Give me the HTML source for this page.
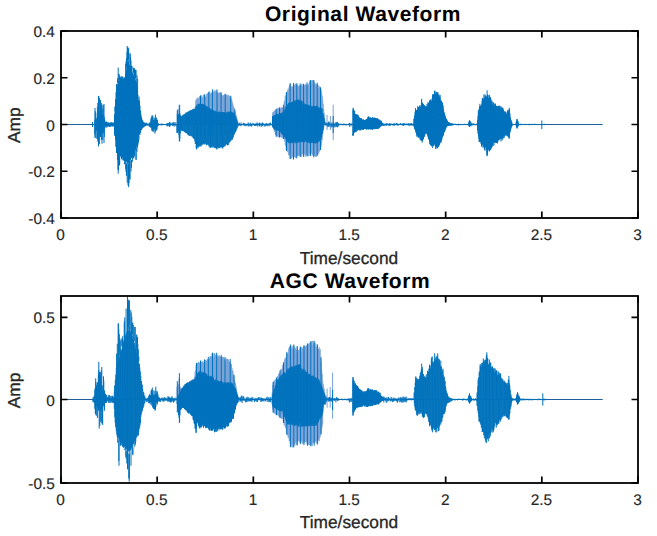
<!DOCTYPE html>
<html><head><meta charset="utf-8"><style>
html,body{margin:0;padding:0;background:#fff;}
body{width:657px;height:536px;overflow:hidden;}
svg{display:block;}
text{text-rendering:geometricPrecision;font-family:"Liberation Sans",sans-serif;fill:#262626;stroke:#262626;stroke-width:0.3px;}
.tk{font-size:15.4px;stroke-width:0.15px;}
.lb{font-size:17.3px;}
.tt{font-size:21px;font-weight:bold;fill:#000;stroke:none;letter-spacing:0.6px;}
</style></head><body>
<svg width="657" height="536" viewBox="0 0 657 536">
<rect width="657" height="536" fill="#fff"/>
<path d="M61,124.5H602.7M61,399.5H602.7" stroke="#1d5e9c" stroke-width="1.1" fill="none"/>
<path d="M176.8,124.0V124.5M177.3,111.1V124.5M177.8,115.7V124.5M178.3,115.0V124.5M178.8,109.4V124.5M179.3,106.3V124.5M179.8,104.9V124.5M180.3,113.2V124.5M180.8,116.7V124.5M181.3,116.9V124.5M181.8,116.0V124.5M182.3,115.4V124.5M182.8,115.2V124.5M183.3,114.7V124.5M183.8,114.9V124.5M184.3,114.0V124.5M184.8,113.9V124.5M185.3,114.0V124.5M185.8,113.7V124.5M186.3,113.3V124.5M186.8,112.1V124.5M187.3,112.1V124.5M187.8,112.1V124.5M188.3,111.8V124.5M188.8,111.5V124.5M189.3,111.9V124.5M189.8,111.3V124.5M190.3,111.0V124.5M190.8,110.8V124.5M191.3,110.0V124.5M191.8,110.4V124.5M192.3,109.6V124.5M192.8,109.4V124.5M193.3,109.9V124.5M193.8,109.8V124.5M194.3,109.5V124.5M194.8,109.6V124.5M195.3,106.7V124.5M195.8,100.4V124.5M196.3,99.5V124.5M196.8,98.7V124.5M197.3,97.6V124.5M197.8,97.9V124.5M198.3,98.3V124.5M198.8,98.9V124.5M199.3,96.8V124.5M199.8,96.0V124.5M200.3,96.0V124.5M200.8,97.6V124.5M201.3,96.7V124.5M201.8,95.4V124.5M202.3,97.6V124.5M202.8,97.2V124.5M203.3,94.8V124.5M203.8,94.7V124.5M204.3,95.2V124.5M204.8,97.0V124.5M205.3,96.8V124.5M205.8,96.6V124.5M206.3,95.1V124.5M206.8,93.8V124.5M207.3,93.6V124.5M207.8,92.8V124.5M208.3,95.1V124.5M208.8,93.1V124.5M209.3,91.6V124.5M209.8,92.2V124.5M210.3,93.8V124.5M210.8,93.6V124.5M211.3,93.0V124.5M211.8,92.6V124.5M212.3,91.5V124.5M212.8,90.4V124.5M213.3,91.5V124.5M213.8,92.6V124.5M214.3,91.9V124.5M214.8,89.7V124.5M215.3,91.2V124.5M215.8,91.5V124.5M216.3,90.6V124.5M216.8,91.8V124.5M217.3,93.0V124.5M217.8,92.4V124.5M218.3,93.0V124.5M218.8,94.1V124.5M219.3,92.3V124.5M219.8,92.9V124.5M220.3,92.2V124.5M220.8,93.2V124.5M221.3,93.8V124.5M221.8,94.7V124.5M222.3,95.3V124.5M222.8,96.0V124.5M223.3,94.9V124.5M223.8,95.9V124.5M224.3,95.0V124.5M224.8,94.5V124.5M225.3,94.5V124.5M225.8,95.2V124.5M226.3,94.7V124.5M226.8,95.2V124.5M227.3,94.6V124.5M227.8,95.7V124.5M228.3,95.6V124.5M228.8,95.0V124.5M229.3,98.0V124.5M229.8,95.9V124.5M230.3,97.3V124.5M230.8,96.6V124.5M231.3,98.7V124.5M231.8,99.5V124.5M232.3,102.2V124.5M232.8,103.7V124.5M233.3,105.8V124.5M233.8,107.5V124.5M234.3,108.0V124.5M234.8,109.8V124.5M235.3,111.8V124.5M235.8,113.7V124.5M236.3,115.6V124.5M236.8,117.3V124.5M237.3,120.4V124.5M237.8,123.3V124.5M272.2,124.0V124.5M272.2,124.5V125.0M272.7,112.6V124.5M272.7,124.5V126.5M273.2,112.0V124.5M273.2,124.5V128.0M273.7,111.7V124.5M273.7,124.5V129.5M274.2,110.5V124.5M274.2,124.5V130.8M274.7,110.9V124.5M274.7,124.5V132.0M275.2,110.5V124.5M275.2,124.5V134.1M275.7,109.8V124.5M275.7,124.5V134.9M276.2,110.1V124.5M276.2,124.5V135.6M276.7,109.2V124.5M276.7,124.5V136.3M277.2,108.1V124.5M277.2,124.5V136.2M277.7,108.3V124.5M277.7,124.5V136.4M278.2,107.8V124.5M278.2,124.5V136.8M278.7,109.0V124.5M278.7,124.5V137.2M279.2,108.6V124.5M279.2,124.5V137.4M279.7,108.8V124.5M279.7,124.5V137.0M280.2,108.6V124.5M280.2,124.5V137.4M280.7,107.7V124.5M280.7,124.5V136.5M281.2,107.3V124.5M281.2,124.5V137.3M281.7,107.9V124.5M281.7,124.5V137.3M282.2,107.5V124.5M282.2,124.5V137.4M282.7,107.6V124.5M282.7,124.5V137.9M283.2,107.2V124.5M283.2,124.5V138.3M283.7,104.9V124.5M283.7,124.5V138.6M284.2,101.6V124.5M284.2,124.5V139.5M284.7,100.6V124.5M284.7,124.5V141.5M285.2,95.6V124.5M285.2,124.5V144.8M285.7,95.8V124.5M285.7,124.5V146.3M286.2,92.9V124.5M286.2,124.5V150.0M286.7,94.4V124.5M286.7,124.5V148.9M287.2,92.1V124.5M287.2,124.5V150.2M287.7,90.0V124.5M287.7,124.5V152.1M288.2,88.4V124.5M288.2,124.5V152.7M288.7,90.2V124.5M288.7,124.5V155.4M289.2,86.3V124.5M289.2,124.5V155.0M289.7,85.0V124.5M289.7,124.5V155.0M290.2,83.4V124.5M290.2,124.5V158.9M290.7,84.4V124.5M290.7,124.5V158.2M291.2,87.3V124.5M291.2,124.5V158.8M291.7,86.2V124.5M291.7,124.5V157.1M292.2,86.7V124.5M292.2,124.5V156.8M292.7,86.7V124.5M292.7,124.5V157.5M293.2,86.3V124.5M293.2,124.5V158.7M293.7,85.6V124.5M293.7,124.5V156.6M294.2,84.5V124.5M294.2,124.5V157.4M294.7,85.2V124.5M294.7,124.5V157.0M295.2,84.2V124.5M295.2,124.5V156.7M295.7,83.6V124.5M295.7,124.5V157.8M296.2,85.4V124.5M296.2,124.5V157.8M296.7,84.8V124.5M296.7,124.5V156.4M297.2,86.2V124.5M297.2,124.5V155.8M297.7,84.5V124.5M297.7,124.5V156.0M298.2,86.9V124.5M298.2,124.5V155.8M298.7,86.0V124.5M298.7,124.5V156.1M299.2,85.2V124.5M299.2,124.5V154.2M299.7,86.0V124.5M299.7,124.5V155.9M300.2,86.2V124.5M300.2,124.5V153.8M300.7,85.0V124.5M300.7,124.5V155.3M301.2,86.4V124.5M301.2,124.5V156.9M301.7,83.7V124.5M301.7,124.5V156.4M302.2,85.1V124.5M302.2,124.5V154.0M302.7,85.9V124.5M302.7,124.5V154.5M303.2,83.8V124.5M303.2,124.5V154.2M303.7,86.3V124.5M303.7,124.5V154.3M304.2,85.3V124.5M304.2,124.5V154.6M304.7,84.7V124.5M304.7,124.5V154.1M305.2,86.2V124.5M305.2,124.5V156.8M305.7,84.0V124.5M305.7,124.5V155.4M306.2,85.1V124.5M306.2,124.5V154.5M306.7,84.8V124.5M306.7,124.5V153.9M307.2,86.1V124.5M307.2,124.5V155.9M307.7,85.0V124.5M307.7,124.5V154.0M308.2,83.7V124.5M308.2,124.5V155.9M308.7,84.8V124.5M308.7,124.5V156.2M309.2,82.7V124.5M309.2,124.5V155.7M309.7,80.6V124.5M309.7,124.5V153.4M310.2,81.1V124.5M310.2,124.5V153.3M310.7,82.2V124.5M310.7,124.5V153.6M311.2,80.2V124.5M311.2,124.5V153.0M311.7,82.5V124.5M311.7,124.5V153.4M312.2,80.1V124.5M312.2,124.5V155.4M312.7,80.1V124.5M312.7,124.5V155.1M313.2,80.1V124.5M313.2,124.5V156.1M313.7,83.3V124.5M313.7,124.5V155.5M314.2,83.2V124.5M314.2,124.5V154.3M314.7,81.5V124.5M314.7,124.5V156.2M315.2,83.8V124.5M315.2,124.5V155.9M315.7,84.5V124.5M315.7,124.5V156.8M316.2,84.1V124.5M316.2,124.5V157.0M316.7,86.5V124.5M316.7,124.5V154.6M317.2,84.4V124.5M317.2,124.5V154.9M317.7,84.9V124.5M317.7,124.5V154.1M318.2,84.9V124.5M318.2,124.5V152.9M318.7,87.6V124.5M318.7,124.5V154.3M319.2,87.7V124.5M319.2,124.5V151.5M319.7,86.2V124.5M319.7,124.5V151.7M320.2,87.6V124.5M320.2,124.5V149.0M320.7,88.5V124.5M320.7,124.5V147.9M321.2,89.6V124.5M321.2,124.5V146.3M321.7,92.4V124.5M321.7,124.5V143.4M322.2,95.7V124.5M322.2,124.5V140.2M322.7,99.5V124.5M322.7,124.5V135.0M323.2,103.8V124.5M323.2,124.5V130.1M323.7,109.1V124.5M323.7,124.5V127.3M324.2,112.8V124.5M324.2,124.5V124.5M324.7,117.9V124.5M324.7,124.5V124.5M325.2,121.9V124.5M325.2,124.5V124.5M327.0,114.8V130.0M330.4,116.0V130.0M333.2,104.7V140.2" stroke="#7aa3d8" stroke-width="1" fill="none"/>
<path d="M145.6,123.4V125.8M146.4,122.6V125.6M147.2,123.3V125.8M148.0,123.8V125.7M158.6,123.8V125.3M159.4,124.2V124.9M160.2,124.2V125.3M161.0,123.7V124.7M161.8,123.5V125.5M162.6,123.8V125.2M163.4,124.2V124.7M164.2,123.9V124.7M165.0,124.1V124.9M165.8,124.3V125.1M166.6,123.9V125.4M167.0,123.0V126.3M167.8,123.0V126.3M168.6,123.1V125.6M169.4,122.0V127.0M170.2,122.3V126.4M171.0,123.4V125.5M171.8,123.4V125.1M172.6,122.5V125.8M173.4,122.3V125.8M174.2,122.1V126.7M175.0,124.0V125.4M175.8,122.2V125.9M237.8,122.3V125.6M238.6,123.9V126.0M239.4,122.7V125.4M240.2,123.9V125.5M241.0,122.4V126.3M241.8,123.9V125.4M242.6,123.9V125.0M243.4,122.7V125.3M244.2,123.1V125.7M245.0,123.7V126.2M245.8,123.8V126.1M246.6,123.9V125.7M247.4,123.7V125.4M248.2,122.4V126.4M249.0,123.5V126.5M249.8,123.7V125.6M250.6,122.6V126.1M251.4,123.9V126.7M252.2,123.7V125.4M253.0,122.7V125.5M253.8,123.5V125.1M254.6,123.9V126.0M255.4,123.6V126.0M256.2,123.4V125.7M257.0,122.4V125.8M257.8,123.0V126.5M258.6,123.7V125.2M259.4,122.5V126.4M260.2,123.6V125.3M261.0,122.8V126.6M261.8,123.7V126.6M262.6,122.5V126.0M263.4,123.3V125.1M264.2,124.0V126.6M265.0,123.6V126.2M265.8,123.6V126.4M266.6,123.0V125.5M267.4,123.8V126.2M268.2,123.9V125.3M269.0,123.1V126.4M269.8,123.0V125.4M270.6,122.4V125.3M271.4,124.0V125.4M325.4,122.8V125.2M326.2,123.5V126.0M327.0,122.5V125.4M327.8,123.0V127.2M328.6,121.5V126.7M329.4,122.2V126.5M330.2,123.6V125.2M331.0,123.9V127.3M331.8,122.2V127.4M332.6,123.8V126.6M333.4,122.7V126.9M334.2,123.1V127.5M335.0,123.7V126.4M335.8,122.1V127.3M336.6,122.1V126.8M337.4,122.0V127.3M338.2,123.1V126.7M338.4,123.6V125.4M339.2,124.0V125.3M340.0,123.6V125.2M340.8,123.8V125.0M341.6,123.8V125.2M342.4,124.2V125.2M343.2,123.5V125.4M344.0,123.7V125.0M344.8,123.7V125.2M345.6,123.9V125.4M346.4,124.2V125.3M347.2,124.3V125.2M348.0,123.9V124.9M348.8,123.7V125.1M349.4,122.8V126.8M350.2,123.5V125.0M351.0,123.4V126.4M351.8,123.6V125.3M382.9,123.0V125.7M383.7,123.6V126.0M384.5,123.8V125.7M385.3,123.9V125.4M386.1,123.1V126.0M386.9,123.1V125.3M387.7,123.4V125.2M388.5,124.0V125.5M389.3,123.1V125.9M390.1,123.3V126.0M390.9,123.8V125.0M391.7,123.6V125.2M392.5,123.9V125.3M393.3,123.4V125.5M394.1,123.8V125.9M394.9,122.9V125.4M395.7,124.1V124.9M396.5,123.1V124.9M397.3,123.3V125.6M398.1,123.8V125.8M398.9,124.2V125.0M399.7,123.6V124.9M400.5,123.1V125.1M401.3,124.0V124.9M402.1,123.4V125.4M402.9,123.4V125.7M403.7,123.1V126.0M404.5,123.3V125.1M405.3,123.6V125.0M406.1,124.2V125.4M406.9,123.3V125.0M407.7,123.8V125.3M408.5,123.3V125.5M409.3,123.4V125.8M410.1,123.7V125.8M410.9,123.0V124.9M411.7,123.0V125.7M412.5,124.0V125.4M413.3,123.4V126.0M452.8,124.1V125.0M453.6,123.8V125.2M454.4,123.7V125.0M455.2,123.9V124.8M456.0,123.9V125.2M456.8,123.9V125.1M457.6,124.2V125.2M458.4,123.7V125.3M459.2,124.0V125.2M460.0,124.1V125.2M460.8,123.8V124.9M461.6,124.3V124.9M462.4,124.0V125.2M463.2,124.0V124.7M464.0,123.8V124.7M464.8,123.8V124.8M465.6,124.1V125.2M466.4,124.3V124.8M471.5,123.8V125.4M472.3,123.5V125.4M473.1,123.4V125.2M473.9,123.3V124.8M474.7,124.0V125.2M475.5,124.0V125.4M476.3,123.6V125.2M518.8,123.8V125.0M519.6,124.1V124.9M520.4,123.8V125.2M521.2,124.2V125.2M522.0,123.7V125.0M522.8,124.0V124.8M523.6,124.0V125.0M524.4,124.0V124.7M525.2,123.7V125.0M526.0,124.1V125.2M526.8,124.0V125.0M527.6,123.9V124.7M528.4,124.0V124.9M529.2,123.7V125.3M530.0,124.2V125.0M530.8,124.3V124.9M531.6,123.8V125.2M532.4,124.0V124.9M533.2,124.2V125.1M534.0,123.7V124.7M534.8,123.8V124.7M535.6,124.2V124.8M536.4,123.9V124.9M537.2,124.1V125.1M538.0,124.3V125.1M538.8,124.3V125.0M539.6,124.2V124.8M540.4,124.0V124.9M541.2,124.1V124.9M542.0,124.0V124.8M542.8,124.2V125.1M543.6,123.9V125.0M544.4,123.8V125.1M104.8,122.3V125.5M105.6,122.5V126.6M106.4,122.2V125.6M107.2,123.4V126.8M108.0,123.6V127.0M108.8,122.2V125.3M109.6,123.5V126.5M110.4,123.5V125.2M111.2,122.3V125.8M112.0,122.4V125.3M112.8,123.2V126.4M113.6,124.0V125.4M94.3,124.7V124.8M94.3,124.3V124.7M94.8,127.4V134.5M94.8,119.7V127.8M95.3,111.2V119.5M95.3,128.6V137.5M95.3,119.2V130.1M95.8,112.7V119.5M95.8,128.7V131.6M95.8,118.8V131.2M96.3,119.2V130.0M96.8,128.8V138.8M96.8,118.2V130.2M97.3,116.8V129.4M97.8,102.8V118.1M97.8,129.7V141.6M97.8,114.9V130.3M98.3,111.8V133.6M98.8,95.9V116.1M98.8,112.6V133.4M99.3,111.2V131.5M99.8,129.6V136.4M99.8,112.9V132.3M100.3,128.6V135.3M100.3,113.6V130.7M100.8,103.3V117.5M100.8,128.6V136.0M100.8,114.1V128.6M101.3,115.3V129.9M101.8,106.4V118.4M101.8,130.0V139.3M101.8,115.7V131.9M102.3,114.5V132.9M102.8,108.7V118.5M102.8,130.2V139.9M102.8,114.5V131.2M103.3,104.9V118.4M103.3,118.2V131.1M103.8,116.1V133.7M104.3,128.4V136.9M104.3,117.3V130.4M104.8,122.6V125.6M105.3,123.2V125.6M105.8,121.8V123.5M105.8,123.1V125.7M106.3,121.7V123.6M106.3,123.4V125.8M106.8,125.4V127.5M106.8,123.5V125.5M107.3,123.6V125.6M107.8,121.8V123.7M107.8,123.3V125.9M108.3,123.7V125.5M108.8,123.0V123.7M108.8,123.2V125.7M109.3,125.3V126.9M109.3,123.2V125.6M109.8,125.2V126.8M109.8,123.5V125.3M110.3,125.2V126.9M110.3,123.6V125.4M110.8,122.2V123.8M110.8,123.5V125.7M111.3,122.7V123.8M111.3,123.5V125.2M111.8,125.2V126.5M111.8,123.5V125.3M112.3,125.1V126.2M112.3,123.6V125.4M112.8,123.8V125.5M113.3,122.6V123.9M113.3,125.1V126.0M113.3,123.9V125.3M113.8,123.3V124.0M113.8,123.8V125.2M95.0,108.0V124.5M97.4,107.0V124.5M98.5,96.0V124.5M99.4,98.0V124.5M100.5,100.0V124.5M101.3,103.0V124.5M102.0,104.6V124.5M104.0,104.0V124.5M104.8,120.0V124.5M106.0,121.5V124.5M113.0,122.5V124.5M95.0,124.5V138.0M97.4,124.5V139.0M98.5,124.5V146.4M99.4,124.5V144.0M100.5,124.5V137.0M101.3,124.5V140.0M102.0,124.5V143.8M104.0,124.5V143.0M104.8,124.5V128.0M106.0,124.5V127.5M113.0,124.5V126.5M114.0,123.0V123.0M114.0,126.0V126.0M114.0,123.1V125.9M114.5,114.6V114.8M114.5,115.4V130.9M115.0,111.2V106.6M115.0,136.0V130.7M115.0,106.9V135.8M115.5,99.2V140.4M116.0,147.1V141.0M116.0,92.2V146.2M116.5,93.9V84.6M116.5,153.0V148.1M116.5,87.2V152.1M117.0,86.0V83.7M117.0,84.3V152.0M117.5,78.4V82.8M117.5,154.2V159.3M117.5,85.5V152.7M118.0,154.8V169.7M118.0,83.8V153.5M118.5,155.4V170.3M118.5,81.2V155.3M119.0,74.1V80.1M119.0,80.7V155.9M119.5,76.3V79.2M119.5,156.7V165.5M119.5,81.5V155.2M120.0,80.8V156.8M120.5,77.9V156.0M121.0,79.8V76.4M121.0,76.8V156.2M121.5,77.3V159.0M122.0,79.0V76.1M122.0,159.6V158.3M122.0,76.8V157.3M122.5,77.3V157.7M123.0,160.5V159.5M123.0,79.6V159.6M123.5,160.9V160.5M123.5,78.7V159.4M124.0,77.5V160.1M124.5,161.9V164.2M124.5,78.7V161.6M125.0,77.8V161.9M125.5,74.1V161.5M126.0,61.4V70.6M126.0,163.2V171.9M126.0,71.4V161.7M126.5,57.9V67.3M126.5,163.7V175.8M126.5,69.8V161.5M127.0,51.9V63.9M127.0,67.9V161.7M127.5,47.5V60.6M127.5,61.6V163.5M128.0,47.3V58.2M128.0,164.9V185.4M128.0,62.6V162.6M128.5,49.4V59.5M128.5,164.3V185.5M128.5,61.4V162.0M129.0,163.7V183.0M129.0,63.9V163.2M129.5,163.2V178.8M129.5,65.4V162.9M130.0,53.5V63.5M130.0,65.8V160.0M130.5,57.3V64.9M130.5,65.7V160.1M131.0,60.5V66.2M131.0,161.0V171.6M131.0,67.6V158.4M131.5,159.9V167.9M131.5,68.7V157.8M132.0,66.1V68.9M132.0,71.6V158.0M132.5,73.0V155.8M133.0,75.1V156.4M133.5,68.1V72.6M133.5,155.7V158.5M133.5,75.9V155.1M134.0,154.7V157.5M134.0,74.0V154.4M134.5,68.4V75.0M134.5,153.6V156.1M134.5,75.7V153.3M135.0,77.9V150.5M135.5,69.8V78.1M135.5,80.4V149.2M136.0,148.1V159.6M136.0,81.9V146.6M136.5,83.2V145.8M137.0,75.2V84.0M137.0,144.0V151.8M137.0,86.8V143.4M137.5,142.0V147.6M137.5,91.3V141.7M138.0,139.9V144.7M138.0,95.1V139.2M138.5,137.9V142.3M138.5,99.8V137.2M139.0,135.8V139.4M139.0,103.6V135.6M139.5,100.7V107.6M139.5,107.8V134.1M140.0,105.7V111.1M140.0,111.8V133.0M140.5,110.6V114.5M140.5,131.9V133.1M140.5,115.2V131.6M141.0,114.5V118.0M141.0,118.0V130.6M141.5,117.0V118.8M141.5,129.5V130.0M141.5,119.1V129.3M142.0,119.7V128.8M142.5,120.1V120.5M142.5,120.8V128.2M143.0,121.0V121.3M143.0,121.5V127.8M143.5,122.3V127.2M144.0,122.7V126.7M144.5,122.7V126.5M145.0,126.3V126.3M145.0,122.9V126.3M145.5,123.0V123.0M145.5,123.1V126.0M114.5,114.6V124.5M116.0,105.0V124.5M116.7,90.7V124.5M118.2,67.6V124.5M119.0,74.0V124.5M119.7,77.0V124.5M121.2,80.3V124.5M122.7,78.8V124.5M124.2,77.0V124.5M125.7,63.9V124.5M127.2,46.0V124.5M128.7,48.2V124.5M130.1,53.4V124.5M131.6,65.4V124.5M133.1,67.6V124.5M134.6,68.4V124.5M136.1,70.0V124.5M137.6,78.8V124.5M139.1,96.7V124.5M140.6,111.6V124.5M141.5,117.0V124.5M142.1,119.5V124.5M143.7,122.0V124.5M114.5,124.5V126.0M116.0,124.5V140.0M116.8,124.5V153.0M117.5,124.5V160.0M118.2,124.5V173.7M119.7,124.5V164.8M121.2,124.5V157.3M123.4,124.5V160.0M125.7,124.5V169.0M127.2,124.5V182.7M128.7,124.5V187.2M130.1,124.5V179.7M132.4,124.5V161.8M134.6,124.5V155.8M136.1,124.5V160.0M137.6,124.5V146.9M139.9,124.5V135.0M141.5,124.5V130.0M143.7,124.5V127.0M148.4,124.0V124.3M148.4,124.3V124.7M148.9,123.9V125.3M149.4,123.0V123.6M149.4,123.3V126.0M149.9,122.9V126.0M150.4,126.1V127.6M150.4,122.3V126.8M150.9,118.6V122.0M150.9,121.3V127.3M151.4,116.8V121.4M151.4,120.4V127.4M151.9,126.9V130.4M151.9,120.2V127.9M152.4,116.6V120.9M152.4,127.1V130.5M152.4,120.6V127.9M152.9,116.0V121.2M152.9,127.3V131.5M152.9,120.2V128.3M153.4,127.5V131.8M153.4,120.0V128.3M153.9,120.9V129.0M154.4,120.7V129.4M154.9,118.0V121.0M154.9,120.2V129.1M155.4,127.7V131.8M155.4,119.6V128.3M155.9,119.8V128.4M156.4,117.5V121.6M156.4,126.9V130.6M156.4,120.6V127.1M156.9,119.8V122.2M156.9,126.5V129.4M156.9,121.6V127.1M157.4,120.0V122.8M157.4,122.5V126.9M157.9,122.9V126.0M158.4,123.7V125.5M149.3,122.4V124.5M152.1,115.0V124.5M154.0,117.7V124.5M155.4,114.5V124.5M157.2,119.6V124.5M149.3,124.5V127.0M152.1,124.5V130.8M154.9,124.5V133.6M156.8,124.5V129.8M176.8,125.0V124.9M176.8,124.0V125.0M177.3,114.3V131.3M177.8,114.1V130.4M178.3,131.3V130.7M178.3,114.2V131.7M178.8,114.2V134.8M179.3,114.6V137.7M179.8,114.4V138.8M180.3,115.3V133.5M180.8,130.2V130.9M180.8,116.0V130.6M181.3,116.3V130.5M181.8,116.5V129.9M182.3,130.1V130.8M182.3,115.9V130.4M182.8,130.4V131.2M182.8,115.3V130.5M183.3,115.2V131.0M183.8,114.6V131.3M184.3,114.1V131.7M184.8,114.6V132.2M185.3,113.7V132.6M185.8,112.6V132.7M186.3,113.4V133.1M186.8,112.6V133.2M187.3,113.1V133.9M187.8,112.0V134.5M188.3,111.3V135.0M188.8,112.4V135.0M189.3,134.7V135.5M189.3,110.8V135.6M189.8,110.9V135.9M190.3,110.4V135.5M190.8,110.6V135.6M191.3,135.8V135.8M191.3,110.0V136.0M191.8,110.4V136.6M192.3,109.4V136.4M192.8,136.6V137.6M192.8,110.0V136.9M193.3,108.9V137.7M193.8,137.1V138.6M193.8,108.8V138.0M194.3,108.8V138.9M194.8,108.8V141.1M195.3,142.1V141.4M195.3,108.8V144.0M195.8,106.7V144.2M196.3,145.7V148.1M196.3,105.7V147.8M196.8,147.0V148.9M196.8,105.5V147.2M197.3,105.8V146.9M197.8,103.9V146.3M198.3,104.6V147.4M198.8,104.0V145.8M199.3,104.3V146.7M199.8,103.6V145.6M200.3,103.6V144.9M200.8,144.2V146.6M200.8,104.0V145.4M201.3,104.0V144.6M201.8,105.1V144.2M202.3,103.8V144.9M202.8,103.9V143.8M203.3,104.3V144.4M203.8,104.7V143.4M204.3,142.4V144.2M204.3,104.9V144.3M204.8,105.5V143.9M205.3,105.1V143.2M205.8,106.5V143.0M206.3,143.0V145.4M206.3,106.5V144.2M206.8,143.4V144.5M206.8,106.2V144.7M207.3,106.6V144.5M207.8,107.4V144.5M208.3,107.4V144.4M208.8,107.9V146.4M209.3,108.1V145.4M209.8,109.3V147.5M210.3,108.5V146.6M210.8,109.8V146.6M211.3,109.6V146.8M211.8,109.2V147.5M212.3,110.0V146.4M212.8,110.1V147.5M213.3,110.7V146.4M213.8,110.3V147.6M214.3,111.1V146.5M214.8,110.8V148.0M215.3,111.2V148.2M215.8,111.6V148.2M216.3,111.4V147.9M216.8,112.2V149.1M217.3,112.4V147.2M217.8,112.4V147.7M218.3,111.7V148.3M218.8,111.9V147.9M219.3,111.6V147.7M219.8,112.4V148.3M220.3,112.0V146.9M220.8,112.3V147.7M221.3,112.0V147.1M221.8,112.2V146.5M222.3,145.7V148.4M222.3,112.3V146.4M222.8,145.5V148.4M222.8,112.2V145.6M223.3,112.0V147.0M223.8,112.2V146.9M224.3,112.4V146.5M224.8,112.1V145.0M225.3,112.2V146.1M225.8,112.5V144.9M226.3,112.8V144.0M226.8,143.5V143.4M226.8,112.8V144.0M227.3,143.2V145.1M227.3,111.9V145.3M227.8,112.3V143.8M228.3,142.5V145.1M228.3,111.8V142.8M228.8,111.6V142.2M229.3,112.3V142.5M229.8,111.5V142.4M230.3,111.5V141.4M230.8,112.0V140.7M231.3,139.3V140.3M231.3,111.6V139.6M231.8,112.0V138.9M232.3,112.9V139.1M232.8,112.4V137.8M233.3,112.6V137.2M233.8,113.0V135.2M234.3,114.1V134.5M234.8,132.9V132.8M234.8,114.7V133.3M235.3,116.0V132.1M235.8,117.6V131.4M236.3,129.7V130.3M236.3,118.6V129.7M236.8,119.3V128.9M237.3,127.5V127.9M237.3,121.3V127.8M237.8,123.4V126.5M176.9,124.5V133.0M178.0,124.5V130.0M179.7,124.5V141.4M180.5,124.5V131.0M181.9,124.5V130.4M188.4,124.5V135.3M193.9,124.5V138.6M196.7,124.5V149.6M198.3,124.5V147.4M201.0,124.5V146.3M204.9,124.5V144.1M210.4,124.5V148.0M216.9,124.5V149.5M222.4,124.5V148.0M227.9,124.5V145.0M232.3,124.5V139.7M235.6,124.5V132.0M200.5,95.3V135.5M204.7,94.2V134.4M208.8,91.7V135.7M212.4,89.4V136.5M217.0,89.4V137.0M221.1,92.4V136.4M225.2,93.7V135.5M230.7,95.7V133.1M234.8,109.6V129.2M272.2,124.0V125.0M272.7,116.6V127.2M273.2,115.9V127.8M273.7,115.5V128.3M274.2,115.5V128.8M274.7,115.4V129.5M275.2,114.9V130.0M275.7,114.7V130.1M276.2,114.4V130.1M276.7,114.2V130.2M277.2,113.8V130.4M277.7,114.5V130.0M278.2,114.4V130.8M278.7,113.8V130.9M279.2,114.0V131.0M279.7,113.5V131.3M280.2,113.4V131.6M280.7,113.7V132.3M281.2,112.8V133.3M281.7,113.3V133.8M282.2,112.9V134.6M282.7,112.5V134.7M283.2,112.0V134.2M283.7,110.8V136.4M284.2,111.4V135.9M284.7,109.7V137.5M285.2,107.8V138.5M285.7,106.8V138.7M286.2,106.3V139.3M286.7,104.9V140.7M287.2,105.4V141.5M287.7,104.5V141.5M288.2,104.2V143.0M288.7,103.0V142.6M289.2,102.4V143.1M289.7,102.4V142.0M290.2,103.4V143.1M290.7,103.1V143.0M291.2,103.0V143.1M291.7,102.0V142.3M292.2,102.0V143.1M292.7,102.0V142.3M293.2,101.1V142.0M293.7,100.4V143.1M294.2,101.3V141.9M294.7,101.0V141.2M295.2,100.0V143.3M295.7,101.3V142.9M296.2,102.0V142.5M296.7,99.9V142.9M297.2,99.4V141.0M297.7,100.3V142.8M298.2,99.8V142.6M298.7,99.5V142.3M299.2,101.0V141.4M299.7,100.3V141.9M300.2,100.6V141.1M300.7,101.4V142.0M301.2,100.3V142.2M301.7,101.9V141.9M302.2,101.0V141.8M302.7,105.2V141.6M303.2,102.8V142.4M303.7,103.3V142.5M304.2,103.2V141.4M304.7,104.4V142.3M305.2,105.4V140.6M305.7,104.0V141.7M306.2,104.1V141.4M306.7,105.3V141.9M307.2,105.3V142.0M307.7,104.6V142.6M308.2,104.9V142.0M308.7,105.4V142.8M309.2,105.6V142.1M309.7,106.1V143.2M310.2,105.6V143.2M310.7,107.2V143.0M311.2,105.9V142.4M311.7,107.2V142.9M312.2,106.1V143.1M312.7,106.8V142.5M313.2,106.2V143.1M313.7,106.3V143.1M314.2,106.5V142.8M314.7,106.2V142.8M315.2,106.2V143.8M315.7,106.2V143.2M316.2,105.9V143.0M316.7,106.0V141.7M317.2,107.4V142.8M317.7,106.9V142.5M318.2,107.5V142.1M318.7,106.8V141.8M319.2,107.8V141.3M319.7,108.4V140.8M320.2,108.0V140.5M320.7,108.7V139.3M321.2,108.0V138.9M321.7,108.0V136.9M322.2,109.0V134.2M322.7,113.0V132.7M323.2,114.1V130.3M323.7,116.0V127.5M324.2,118.3V124.5M324.7,120.7V124.5M325.2,123.0V124.5M272.5,116.4V125.9M276.2,108.8V136.8M279.5,107.4V137.4M283.4,104.8V139.0M286.5,92.0V151.0M290.1,83.4V159.1M293.5,83.0V159.6M296.8,83.2V158.4M300.2,83.5V157.0M303.6,83.8V157.0M307.0,82.4V156.6M310.5,80.2V155.9M313.8,80.1V157.3M317.2,82.7V156.1M320.5,87.3V150.0M352.5,124.0V124.1M352.5,124.9V125.0M352.5,124.0V125.0M353.0,133.5V135.9M353.0,110.2V135.1M353.5,108.6V112.1M353.5,132.9V134.9M353.5,110.5V134.1M354.0,110.2V113.0M354.0,111.7V132.9M354.5,111.3V113.7M354.5,112.7V132.5M355.0,113.5V131.8M355.5,130.6V132.2M355.5,114.1V130.8M356.0,114.0V115.2M356.0,130.4V132.0M356.0,114.7V131.4M356.5,114.6V131.3M357.0,114.8V116.1M357.0,115.4V130.4M357.5,114.5V116.6M357.5,116.4V130.7M358.0,115.1V117.1M358.0,116.3V130.0M358.5,116.4V129.8M359.0,117.0V117.8M359.0,117.6V129.7M359.5,117.5V130.3M360.0,129.3V130.4M360.0,118.2V129.9M360.5,129.1V129.8M360.5,118.1V129.4M361.0,118.0V119.4M361.0,129.1V130.0M361.0,119.2V129.3M361.5,118.5V119.8M361.5,119.5V129.5M362.0,119.8V129.7M362.5,119.7V129.4M363.0,128.9V129.7M363.0,119.5V129.1M363.5,119.4V120.4M363.5,128.9V130.0M363.5,119.8V129.3M364.0,128.9V128.8M364.0,120.2V129.1M364.5,120.3V120.7M364.5,120.0V128.9M365.0,120.8V128.9M365.5,120.4V128.8M366.0,119.2V120.1M366.0,120.1V129.1M366.5,119.0V129.3M367.0,119.1V128.8M367.5,117.4V118.7M367.5,128.7V129.1M367.5,118.3V129.0M368.0,118.4V118.2M368.0,128.7V129.4M368.0,118.1V129.1M368.5,116.7V118.0M368.5,117.6V129.4M369.0,128.7V128.7M369.0,117.0V129.4M369.5,117.6V129.2M370.0,117.6V128.7M370.5,117.9V118.4M370.5,128.7V129.2M370.5,117.4V129.4M371.0,118.5V129.2M371.5,128.7V129.0M371.5,118.0V129.3M372.0,128.7V129.5M372.0,117.7V129.0M372.5,117.4V118.9M372.5,118.5V129.1M373.0,128.6V129.4M373.0,118.6V128.9M373.5,117.7V119.0M373.5,118.1V128.9M374.0,117.9V119.0M374.0,128.4V129.2M374.0,118.7V128.9M374.5,117.6V119.1M374.5,128.3V129.1M374.5,118.2V128.5M375.0,128.3V128.7M375.0,118.5V128.6M375.5,117.8V119.2M375.5,128.2V128.8M375.5,118.4V128.9M376.0,128.1V128.6M376.0,118.9V128.8M376.5,118.7V119.3M376.5,128.0V128.9M376.5,118.5V128.6M377.0,118.7V119.3M377.0,128.0V128.5M377.0,118.6V128.5M377.5,127.9V128.8M377.5,119.4V128.0M378.0,127.8V128.5M378.0,118.9V128.4M378.5,127.7V128.5M378.5,119.4V127.8M379.0,119.7V127.8M379.5,119.7V120.5M379.5,127.1V127.7M379.5,120.2V127.6M380.0,120.1V120.8M380.0,126.8V127.3M380.0,120.7V126.8M380.5,120.7V126.6M381.0,126.1V126.4M381.0,121.0V126.1M381.5,125.8V126.1M381.5,121.5V125.9M382.0,122.5V125.5M382.5,123.1V123.2M382.5,125.2V125.3M382.5,123.0V125.3M353.0,107.8V124.5M354.3,110.8V124.5M357.9,115.1V124.5M361.6,118.7V124.5M365.2,120.0V124.5M368.3,116.3V124.5M372.5,117.5V124.5M377.4,118.1V124.5M381.1,120.6V124.5M353.0,124.5V135.8M355.5,124.5V132.1M360.4,124.5V130.3M366.4,124.5V129.7M372.5,124.5V129.7M378.6,124.5V128.5M413.5,124.0V124.9M414.0,118.8V119.9M414.0,126.3V126.7M414.0,119.6V126.6M414.5,115.4V117.2M414.5,127.8V128.2M414.5,117.1V128.2M415.0,111.6V114.4M415.0,114.0V129.3M415.5,108.4V111.6M415.5,130.4V131.2M415.5,110.7V131.1M416.0,110.1V111.2M416.0,131.7V132.8M416.0,109.8V132.5M416.5,110.2V134.4M417.0,134.3V134.8M417.0,109.9V136.2M417.5,109.5V135.2M418.0,135.1V137.7M418.0,109.3V135.7M418.5,107.1V109.8M418.5,108.2V137.4M419.0,107.0V109.7M419.0,108.7V137.2M419.5,105.5V109.7M419.5,136.3V137.3M419.5,108.4V137.4M420.0,109.2V109.7M420.0,108.9V136.9M420.5,137.3V139.4M420.5,107.3V139.2M421.0,137.8V140.5M421.0,104.8V140.2M421.5,100.4V104.5M421.5,138.3V140.6M421.5,102.7V139.2M422.0,103.8V141.0M422.5,102.7V140.5M423.0,104.5V137.8M423.5,104.1V108.4M423.5,136.3V139.5M423.5,107.5V137.4M424.0,106.7V137.0M424.5,105.2V109.2M424.5,107.3V136.0M425.0,105.8V109.4M425.0,108.5V134.9M425.5,106.8V133.4M426.0,109.4V133.8M426.5,106.4V133.5M427.0,103.9V108.3M427.0,106.8V133.0M427.5,107.0V135.6M428.0,102.4V107.1M428.0,135.5V137.5M428.0,105.4V136.1M428.5,104.1V106.5M428.5,103.3V139.1M429.0,104.9V139.9M429.5,100.4V105.4M429.5,139.7V141.8M429.5,102.6V141.1M430.0,101.7V142.0M430.5,100.0V104.2M430.5,141.1V145.1M430.5,103.3V142.1M431.0,103.6V103.3M431.0,141.6V145.7M431.0,103.1V143.7M431.5,102.9V102.3M431.5,142.1V146.3M431.5,100.6V142.6M432.0,98.4V144.6M432.5,96.2V144.1M433.0,95.1V144.0M433.5,94.2V99.1M433.5,98.8V146.0M434.0,96.9V145.9M434.5,91.0V97.8M434.5,143.7V144.3M434.5,95.5V144.0M435.0,91.5V97.3M435.0,97.1V144.7M435.5,93.7V97.5M435.5,143.8V148.0M435.5,95.3V146.5M436.0,143.7V148.9M436.0,94.5V145.9M436.5,92.0V97.9M436.5,143.5V146.9M436.5,97.7V143.6M437.0,143.3V147.0M437.0,97.6V146.3M437.5,92.5V98.3M437.5,143.1V148.3M437.5,95.5V144.2M438.0,142.9V146.8M438.0,94.4V144.3M438.5,142.7V146.8M438.5,95.4V144.2M439.0,94.3V99.7M439.0,142.0V144.3M439.0,97.6V143.4M439.5,99.4V100.2M439.5,141.2V145.3M439.5,96.7V142.6M440.0,140.4V143.4M440.0,96.7V142.8M440.5,100.6V142.3M441.0,100.9V103.2M441.0,138.8V142.7M441.0,100.5V140.6M441.5,101.8V104.5M441.5,138.0V139.4M441.5,100.8V139.8M442.0,136.9V139.1M442.0,104.9V137.4M442.5,102.9V107.2M442.5,104.0V137.0M443.0,105.0V109.1M443.0,106.7V135.6M443.5,133.4V135.5M443.5,109.1V134.3M444.0,111.7V132.4M444.5,131.0V131.8M444.5,114.2V132.1M445.0,129.9V130.4M445.0,115.3V130.4M445.5,116.7V117.4M445.5,128.8V129.6M445.5,116.5V129.4M446.0,118.1V128.3M446.5,119.1V119.8M446.5,126.6V127.1M446.5,119.0V126.9M447.0,125.9V126.1M447.0,120.3V126.0M447.5,125.8V126.2M447.5,121.1V125.9M448.0,125.8V126.1M448.0,121.7V126.0M448.5,122.1V122.4M448.5,125.7V125.9M448.5,122.3V125.9M449.0,122.7V125.7M449.5,122.7V123.1M449.5,122.8V125.6M450.0,123.0V123.2M450.0,125.5V125.7M450.0,123.1V125.6M450.5,125.4V125.6M450.5,123.1V125.5M451.0,123.1V123.3M451.0,125.4V125.6M451.0,123.2V125.5M451.5,125.3V125.4M451.5,123.3V125.4M452.0,125.2V125.3M452.0,123.5V125.4M452.5,123.4V123.6M452.5,125.2V125.3M452.5,123.6V125.3M414.0,118.8V124.5M415.5,108.4V124.5M417.7,106.1V124.5M420.0,106.0V124.5M421.7,98.7V124.5M423.7,105.0V124.5M425.9,106.0V124.5M428.2,102.4V124.5M430.4,99.4V124.5M432.6,94.2V124.5M434.9,90.5V124.5M437.9,92.0V124.5M440.1,94.9V124.5M442.4,102.4V124.5M444.6,112.9V124.5M446.8,119.6V124.5M449.1,122.6V124.5M414.7,124.5V129.3M417.0,124.5V136.8M420.0,124.5V139.8M422.2,124.5V142.7M424.4,124.5V136.8M426.7,124.5V133.8M429.7,124.5V144.2M432.6,124.5V148.0M435.6,124.5V148.7M438.6,124.5V147.2M441.6,124.5V141.2M444.6,124.5V132.3M446.8,124.5V126.3M467.8,124.9V125.0M467.8,124.0V124.9M468.3,125.4V125.6M468.3,123.0V125.5M468.8,121.8V122.4M468.8,122.3V125.9M469.3,120.8V121.5M469.3,126.3V126.6M469.3,121.1V126.5M469.8,120.7V121.5M469.8,126.3V126.6M469.8,121.3V126.4M470.3,121.3V122.0M470.3,121.7V126.1M470.8,122.4V125.8M471.3,122.9V125.5M469.5,120.3V124.5M469.5,124.5V127.0M477.0,124.0V124.1M477.0,124.1V124.9M477.5,128.8V129.6M477.5,120.9V129.5M478.0,115.8V116.3M478.0,131.9V133.7M478.0,116.3V132.8M478.5,112.0V136.5M479.0,137.8V138.4M479.0,109.0V139.0M479.5,139.1V142.0M479.5,106.4V141.3M480.0,107.0V141.4M480.5,105.8V142.2M481.0,141.5V144.0M481.0,105.7V141.5M481.5,142.3V145.3M481.5,104.6V145.4M482.0,142.6V143.1M482.0,101.2V144.6M482.5,98.3V103.1M482.5,100.4V144.6M483.0,143.4V148.2M483.0,100.7V145.7M483.5,98.6V101.1M483.5,143.8V146.4M483.5,100.2V146.6M484.0,100.0V145.2M484.5,144.6V149.5M484.5,97.6V144.8M485.0,94.7V101.2M485.0,145.4V150.8M485.0,97.7V146.0M485.5,95.4V101.6M485.5,97.5V147.2M486.0,97.4V147.7M486.5,97.0V149.7M487.0,96.0V97.4M487.0,149.6V155.6M487.0,96.5V154.2M487.5,97.5V97.9M487.5,149.2V154.8M487.5,94.5V150.1M488.0,95.4V151.4M488.5,147.6V148.9M488.5,98.0V149.8M489.0,94.8V100.7M489.0,98.5V146.9M489.5,95.2V101.6M489.5,100.0V146.6M490.0,99.3V102.4M490.0,98.7V148.4M490.5,97.2V103.3M490.5,144.8V150.2M490.5,102.3V147.6M491.0,98.7V104.1M491.0,103.3V147.3M491.5,143.6V148.5M491.5,102.1V146.2M492.0,101.3V105.5M492.0,105.0V143.1M492.5,104.9V105.9M492.5,104.6V144.4M493.0,102.4V106.3M493.0,142.0V146.0M493.0,106.2V143.0M493.5,102.6V106.7M493.5,104.6V142.3M494.0,104.5V107.1M494.0,141.5V145.4M494.0,105.9V142.8M494.5,141.2V141.7M494.5,107.4V141.9M495.0,103.4V107.9M495.0,106.1V142.7M495.5,103.9V108.1M495.5,107.7V142.9M496.0,105.5V108.3M496.0,108.1V141.3M496.5,140.2V141.7M496.5,106.1V142.9M497.0,106.4V108.6M497.0,106.3V142.7M497.5,108.1V108.7M497.5,106.2V142.2M498.0,106.3V141.7M498.5,107.6V109.1M498.5,106.3V140.2M499.0,108.8V139.0M499.5,106.1V109.5M499.5,108.7V139.8M500.0,106.2V109.7M500.0,107.0V139.3M500.5,109.4V138.6M501.0,106.2V110.2M501.0,137.8V141.6M501.0,109.3V138.6M501.5,107.8V137.7M502.0,107.3V110.7M502.0,137.2V137.8M502.0,110.1V139.5M502.5,108.1V110.9M502.5,110.1V137.9M503.0,136.4V137.5M503.0,110.8V138.5M503.5,109.7V111.7M503.5,110.3V136.3M504.0,135.4V138.2M504.0,111.0V137.4M504.5,112.2V113.0M504.5,112.7V136.3M505.0,111.1V113.6M505.0,111.8V134.7M505.5,112.0V114.2M505.5,114.1V134.1M506.0,133.5V135.9M506.0,114.5V134.9M506.5,114.2V134.9M507.0,112.7V135.6M507.5,110.3V113.3M507.5,134.5V135.6M507.5,111.2V135.3M508.0,110.7V112.7M508.0,134.9V136.9M508.0,111.6V135.8M508.5,111.8V136.6M509.0,109.6V111.5M509.0,135.6V138.4M509.0,109.6V137.3M509.5,110.2V112.3M509.5,110.2V135.6M510.0,113.4V115.3M510.0,115.2V132.7M510.5,117.4V118.3M510.5,130.2V131.3M510.5,118.1V131.0M511.0,120.1V120.9M511.0,120.7V128.1M511.5,121.2V121.9M511.5,121.6V127.2M512.0,122.5V122.9M512.0,122.6V126.4M512.5,125.3V125.5M512.5,123.9V125.4M477.6,119.7V124.5M478.3,110.2V124.5M479.9,103.8V124.5M482.3,98.3V124.5M483.9,94.3V124.5M485.5,95.9V124.5M487.1,90.3V124.5M489.5,95.9V124.5M491.8,100.6V124.5M495.0,103.8V124.5M499.0,105.4V124.5M503.0,107.8V124.5M506.1,112.5V124.5M509.3,107.8V124.5M510.9,119.7V124.5M477.6,124.5V130.8M479.1,124.5V141.9M481.5,124.5V146.7M484.7,124.5V149.8M487.1,124.5V156.2M489.5,124.5V151.4M492.6,124.5V146.7M497.4,124.5V143.5M502.2,124.5V140.3M506.1,124.5V135.6M509.3,124.5V138.7M510.9,124.5V129.2M515.5,124.1V124.1M515.5,124.0V124.9M516.0,122.3V122.7M516.0,122.5V125.8M516.5,120.7V121.4M516.5,126.7V127.3M516.5,121.1V127.0M517.0,127.6V128.4M517.0,119.2V128.0M517.5,120.9V120.9M517.5,127.0V127.0M517.5,120.4V127.2M518.0,121.3V121.8M518.0,126.3V126.7M518.0,121.4V126.5M518.5,122.6V122.8M518.5,122.5V125.8M517.0,118.9V124.5M517.0,124.5V128.4M541.8,120.5V129.2M179.3,104.7V141.4M177.4,109.6V133.0M333.2,116.0V133.0M92.5,122.0V127.0M114.5,114.4V134.7" stroke="#0072bd" stroke-width="1" fill="none"/>
<path d="M176.5,399.0V399.5M177.0,386.8V399.5M177.5,384.7V399.5M178.0,390.5V399.5M178.5,383.8V399.5M179.0,378.3V399.5M179.5,377.9V399.5M180.0,385.9V399.5M180.5,387.8V399.5M181.0,388.6V399.5M181.5,389.5V399.5M182.0,389.2V399.5M182.5,388.0V399.5M183.0,388.3V399.5M183.5,387.1V399.5M184.0,386.5V399.5M184.5,386.4V399.5M185.0,385.5V399.5M185.5,385.3V399.5M186.0,385.4V399.5M186.5,384.8V399.5M187.0,384.5V399.5M187.5,383.5V399.5M188.0,384.0V399.5M188.5,382.6V399.5M189.0,383.2V399.5M189.5,382.8V399.5M190.0,382.6V399.5M190.5,381.6V399.5M191.0,380.8V399.5M191.5,381.7V399.5M192.0,381.1V399.5M192.5,380.4V399.5M193.0,380.5V399.5M193.5,380.5V399.5M194.0,378.5V399.5M194.5,376.5V399.5M195.0,371.8V399.5M195.5,370.2V399.5M196.0,365.2V399.5M196.5,366.0V399.5M197.0,363.3V399.5M197.5,362.9V399.5M198.0,365.3V399.5M198.5,361.9V399.5M199.0,363.1V399.5M199.5,362.4V399.5M200.0,364.4V399.5M200.5,363.3V399.5M201.0,364.3V399.5M201.5,362.1V399.5M202.0,361.4V399.5M202.5,361.4V399.5M203.0,363.0V399.5M203.5,362.8V399.5M204.0,361.2V399.5M204.5,359.6V399.5M205.0,361.5V399.5M205.5,360.3V399.5M206.0,360.5V399.5M206.5,361.1V399.5M207.0,359.3V399.5M207.5,359.3V399.5M208.0,360.7V399.5M208.5,360.2V399.5M209.0,359.4V399.5M209.5,358.0V399.5M210.0,356.1V399.5M210.5,356.2V399.5M211.0,357.6V399.5M211.5,356.2V399.5M212.0,353.4V399.5M212.5,357.0V399.5M213.0,353.9V399.5M213.5,357.2V399.5M214.0,353.8V399.5M214.5,353.1V399.5M215.0,353.5V399.5M215.5,355.3V399.5M216.0,354.6V399.5M216.5,355.8V399.5M217.0,354.5V399.5M217.5,356.6V399.5M218.0,356.6V399.5M218.5,356.4V399.5M219.0,354.7V399.5M219.5,356.3V399.5M220.0,357.8V399.5M220.5,356.3V399.5M221.0,359.0V399.5M221.5,358.9V399.5M222.0,357.3V399.5M222.5,356.8V399.5M223.0,357.2V399.5M223.5,357.2V399.5M224.0,358.2V399.5M224.5,359.4V399.5M225.0,359.9V399.5M225.5,361.4V399.5M226.0,358.3V399.5M226.5,359.1V399.5M227.0,360.5V399.5M227.5,358.8V399.5M228.0,359.1V399.5M228.5,359.9V399.5M229.0,360.9V399.5M229.5,362.3V399.5M230.0,362.1V399.5M230.5,363.6V399.5M231.0,363.7V399.5M231.5,364.4V399.5M232.0,367.8V399.5M232.5,370.6V399.5M233.0,370.6V399.5M233.5,374.7V399.5M234.0,376.3V399.5M234.5,379.3V399.5M235.0,381.8V399.5M235.5,383.2V399.5M236.0,385.6V399.5M236.5,388.6V399.5M237.0,391.6V399.5M237.5,393.8V399.5M238.0,396.8V399.5M271.7,399.0V399.5M271.7,399.5V400.0M272.2,392.5V399.5M272.2,399.5V405.2M272.7,385.1V399.5M272.7,399.5V409.7M273.2,382.8V399.5M273.2,399.5V412.4M273.7,382.1V399.5M273.7,399.5V411.9M274.2,381.3V399.5M274.2,399.5V413.2M274.7,380.3V399.5M274.7,399.5V413.4M275.2,379.3V399.5M275.2,399.5V413.6M275.7,379.5V399.5M275.7,399.5V414.5M276.2,379.0V399.5M276.2,399.5V413.9M276.7,379.5V399.5M276.7,399.5V414.1M277.2,377.4V399.5M277.2,399.5V414.9M277.7,376.1V399.5M277.7,399.5V414.6M278.2,375.8V399.5M278.2,399.5V415.6M278.7,374.0V399.5M278.7,399.5V415.9M279.2,373.0V399.5M279.2,399.5V417.2M279.7,373.4V399.5M279.7,399.5V417.3M280.2,371.6V399.5M280.2,399.5V417.8M280.7,369.2V399.5M280.7,399.5V418.2M281.2,370.0V399.5M281.2,399.5V418.0M281.7,368.8V399.5M281.7,399.5V418.9M282.2,368.5V399.5M282.2,399.5V418.8M282.7,365.2V399.5M282.7,399.5V418.7M283.2,365.7V399.5M283.2,399.5V421.0M283.7,365.3V399.5M283.7,399.5V422.9M284.2,362.1V399.5M284.2,399.5V425.4M284.7,359.2V399.5M284.7,399.5V424.5M285.2,357.7V399.5M285.2,399.5V427.1M285.7,359.0V399.5M285.7,399.5V427.9M286.2,357.0V399.5M286.2,399.5V429.9M286.7,354.1V399.5M286.7,399.5V433.1M287.2,353.0V399.5M287.2,399.5V435.1M287.7,353.4V399.5M287.7,399.5V435.6M288.2,353.6V399.5M288.2,399.5V438.1M288.7,348.4V399.5M288.7,399.5V437.6M289.2,347.7V399.5M289.2,399.5V441.2M289.7,346.2V399.5M289.7,399.5V440.7M290.2,347.3V399.5M290.2,399.5V442.7M290.7,349.4V399.5M290.7,399.5V447.4M291.2,346.1V399.5M291.2,399.5V444.2M291.7,348.5V399.5M291.7,399.5V446.7M292.2,348.9V399.5M292.2,399.5V444.8M292.7,346.0V399.5M292.7,399.5V447.7M293.2,348.6V399.5M293.2,399.5V446.5M293.7,348.9V399.5M293.7,399.5V444.7M294.2,345.7V399.5M294.2,399.5V444.6M294.7,348.1V399.5M294.7,399.5V445.5M295.2,349.2V399.5M295.2,399.5V443.2M295.7,347.6V399.5M295.7,399.5V441.8M296.2,350.0V399.5M296.2,399.5V445.2M296.7,350.4V399.5M296.7,399.5V441.9M297.2,346.9V399.5M297.2,399.5V444.6M297.7,351.4V399.5M297.7,399.5V442.1M298.2,349.8V399.5M298.2,399.5V440.9M298.7,350.2V399.5M298.7,399.5V440.8M299.2,349.8V399.5M299.2,399.5V440.7M299.7,348.5V399.5M299.7,399.5V442.8M300.2,346.9V399.5M300.2,399.5V442.5M300.7,349.0V399.5M300.7,399.5V441.9M301.2,347.3V399.5M301.2,399.5V440.9M301.7,351.3V399.5M301.7,399.5V440.9M302.2,347.3V399.5M302.2,399.5V443.0M302.7,349.5V399.5M302.7,399.5V443.6M303.2,348.1V399.5M303.2,399.5V444.4M303.7,346.2V399.5M303.7,399.5V441.1M304.2,350.3V399.5M304.2,399.5V442.2M304.7,346.0V399.5M304.7,399.5V442.7M305.2,346.0V399.5M305.2,399.5V441.9M305.7,346.9V399.5M305.7,399.5V441.3M306.2,345.6V399.5M306.2,399.5V442.6M306.7,345.3V399.5M306.7,399.5V441.2M307.2,348.2V399.5M307.2,399.5V444.7M307.7,343.9V399.5M307.7,399.5V445.5M308.2,344.4V399.5M308.2,399.5V443.8M308.7,343.6V399.5M308.7,399.5V444.9M309.2,344.6V399.5M309.2,399.5V444.6M309.7,342.5V399.5M309.7,399.5V445.1M310.2,344.8V399.5M310.2,399.5V445.3M310.7,342.9V399.5M310.7,399.5V443.8M311.2,341.5V399.5M311.2,399.5V442.6M311.7,343.5V399.5M311.7,399.5V445.3M312.2,341.0V399.5M312.2,399.5V446.2M312.7,345.3V399.5M312.7,399.5V443.4M313.2,340.6V399.5M313.2,399.5V443.1M313.7,343.2V399.5M313.7,399.5V442.7M314.2,344.3V399.5M314.2,399.5V441.8M314.7,343.8V399.5M314.7,399.5V443.2M315.2,342.5V399.5M315.2,399.5V441.0M315.7,346.4V399.5M315.7,399.5V442.1M316.2,344.4V399.5M316.2,399.5V440.8M316.7,347.2V399.5M316.7,399.5V443.6M317.2,349.0V399.5M317.2,399.5V441.5M317.7,347.4V399.5M317.7,399.5V440.1M318.2,349.0V399.5M318.2,399.5V440.7M318.7,350.3V399.5M318.7,399.5V440.0M319.2,347.2V399.5M319.2,399.5V441.3M319.7,350.4V399.5M319.7,399.5V438.1M320.2,348.9V399.5M320.2,399.5V436.9M320.7,356.6V399.5M320.7,399.5V433.2M321.2,361.6V399.5M321.2,399.5V433.3M321.7,369.6V399.5M321.7,399.5V429.2M322.2,373.8V399.5M322.2,399.5V426.5M322.7,380.6V399.5M322.7,399.5V423.8M323.2,383.9V399.5M323.2,399.5V411.2M323.7,386.4V399.5M323.7,399.5V404.5M324.2,389.0V399.5M324.2,399.5V404.3M324.7,392.1V399.5M324.7,399.5V404.1M325.2,395.1V399.5M325.2,399.5V404.3M327.1,388.6V407.7M330.2,387.0V407.7M332.6,372.7V418.7" stroke="#7aa3d8" stroke-width="1" fill="none"/>
<path d="M145.0,397.2V401.2M145.8,398.6V400.3M146.6,398.5V402.1M147.4,397.7V401.6M159.8,398.3V400.7M160.6,398.6V401.9M161.4,397.8V400.3M162.2,397.6V401.2M163.0,397.8V401.5M163.8,397.8V401.8M164.6,397.1V400.8M165.4,397.7V400.7M166.2,398.2V400.7M167.0,397.7V400.7M167.8,398.3V401.7M168.6,397.4V401.4M169.4,397.3V400.8M170.2,397.7V400.5M171.0,398.4V400.2M171.8,397.4V401.8M172.6,398.4V400.8M173.4,398.8V400.3M174.2,397.7V401.8M175.0,398.8V400.5M175.8,397.5V400.5M168.0,395.9V401.4M168.8,397.2V400.9M169.6,397.8V401.7M170.4,397.8V402.6M171.2,398.6V402.3M172.0,396.1V401.3M172.8,398.1V400.7M173.6,398.5V402.8M238.1,396.8V400.3M238.9,397.2V402.2M239.7,397.7V400.4M240.5,397.4V401.4M241.3,395.6V401.5M242.1,395.7V403.1M242.9,396.9V400.7M243.7,396.1V400.6M244.0,397.7V400.3M244.8,398.7V401.0M245.6,398.6V402.3M246.4,397.6V402.1M247.2,396.8V401.8M248.0,397.5V401.1M248.8,397.2V401.6M249.6,398.6V401.2M250.4,398.0V401.2M251.2,397.3V401.6M252.0,397.7V401.8M252.8,397.1V400.3M253.6,398.6V400.2M254.4,398.6V402.2M255.2,398.2V401.0M256.0,397.9V401.3M256.8,398.3V401.8M257.6,398.2V402.0M258.4,397.1V400.1M259.2,397.7V400.3M260.0,397.0V400.2M260.8,398.3V401.8M261.6,397.6V401.6M262.4,398.0V401.2M263.2,398.5V401.1M264.0,398.4V401.6M264.8,398.7V400.4M265.6,398.5V401.3M266.4,397.6V400.1M267.2,396.7V401.9M268.0,398.1V400.4M268.8,397.1V402.2M269.6,398.5V401.8M270.4,397.1V402.2M271.2,398.5V400.3M325.5,398.5V400.7M326.3,396.7V402.3M327.1,397.8V400.4M327.9,398.1V400.7M328.7,397.3V401.8M329.5,397.0V401.1M330.3,397.8V401.2M331.1,398.0V401.2M331.9,397.3V401.8M332.7,398.1V401.5M333.5,398.6V400.2M334.3,398.0V401.0M335.1,398.8V400.3M335.9,397.9V402.4M336.7,396.9V400.2M337.5,398.1V401.0M338.3,398.2V400.4M339.0,398.8V400.4M339.8,399.0V399.8M340.6,399.2V399.7M341.4,398.7V399.9M342.2,398.7V400.3M343.0,399.2V399.9M343.8,399.0V400.3M344.6,398.7V399.9M345.4,398.9V400.0M346.2,398.9V400.3M347.0,399.1V400.3M347.8,398.6V400.2M348.6,398.5V400.5M349.4,398.5V402.5M350.2,398.4V402.0M351.0,398.6V400.8M351.8,397.8V402.1M383.0,396.9V400.8M383.8,396.3V402.6M384.6,397.4V400.3M385.4,398.0V401.0M386.2,397.6V402.8M387.0,397.1V402.5M387.8,398.6V400.9M388.6,396.8V401.2M389.4,398.2V400.4M390.2,398.7V401.4M391.0,397.3V401.3M391.8,397.2V401.0M392.6,398.8V402.1M393.4,397.9V401.6M394.2,397.7V401.0M395.0,398.7V401.0M395.8,398.0V400.5M396.6,398.7V401.5M397.4,398.7V402.7M398.2,397.8V401.4M399.0,397.3V400.3M399.8,398.5V402.4M400.6,397.2V401.6M401.4,397.8V402.3M402.2,397.4V402.4M403.0,396.5V402.7M403.8,396.8V402.1M404.6,397.5V401.7M405.4,397.2V401.7M406.2,396.5V402.6M406.6,399.1V400.7M407.4,398.5V400.5M408.2,398.1V399.9M409.0,398.6V400.3M409.8,398.1V400.0M410.6,398.5V400.0M411.4,398.3V400.4M412.2,398.3V400.2M413.0,398.1V399.8M452.0,399.1V400.3M452.8,398.6V400.3M453.6,399.1V399.8M454.4,398.7V400.3M455.2,399.3V400.4M456.0,398.9V399.7M456.8,398.9V400.0M457.6,399.2V400.4M458.4,398.6V399.8M459.2,398.9V399.9M460.0,398.8V399.8M460.8,399.0V400.0M461.6,398.9V400.0M462.4,398.8V400.5M463.2,398.6V400.4M464.0,398.6V399.9M464.8,399.1V400.1M465.6,398.8V400.2M466.4,399.0V400.5M471.6,398.8V399.8M472.4,399.1V400.1M473.2,398.3V400.8M474.0,399.1V400.1M474.8,398.9V400.7M475.6,398.1V400.1M476.4,399.1V401.0M512.0,398.0V400.7M512.8,398.6V400.7M513.6,398.3V400.4M514.4,398.9V400.4M515.2,398.4V400.2M520.2,398.9V399.8M521.0,398.6V399.8M521.8,399.2V400.4M522.6,398.6V400.3M523.4,398.7V400.3M524.2,398.7V400.1M525.0,399.3V400.2M525.8,398.7V400.3M526.6,399.3V399.7M527.4,398.8V400.0M528.2,398.7V400.4M529.0,399.0V400.2M529.8,398.8V400.2M530.6,399.1V400.1M531.4,399.3V400.3M532.2,398.8V400.3M533.0,399.0V399.8M533.8,399.0V400.2M534.6,398.9V399.8M535.4,399.3V400.0M536.2,399.1V399.8M537.0,399.2V400.0M537.8,398.8V400.3M538.6,398.8V399.7M539.4,398.7V400.1M540.2,398.8V400.1M541.0,399.1V399.9M541.8,399.3V400.2M542.6,399.3V400.2M543.4,398.7V400.2M544.2,398.9V400.3M545.0,398.6V400.3M92.8,399.3V399.7M93.3,400.7V402.1M93.3,398.2V401.2M93.8,397.2V402.2M94.3,396.1V402.9M94.8,389.6V396.6M94.8,402.8V408.8M94.8,395.8V403.6M95.3,403.6V413.3M95.3,394.7V403.8M95.8,382.3V393.5M95.8,404.1V413.5M95.8,391.9V406.6M96.3,386.6V395.1M96.3,404.4V415.9M96.3,392.3V404.5M96.8,387.1V394.8M96.8,392.0V405.6M97.3,382.3V394.4M97.3,394.2V406.0M97.8,388.7V408.2M98.3,374.8V390.3M98.3,385.7V410.6M98.8,369.9V388.2M98.8,382.4V410.6M99.3,375.3V390.4M99.3,386.7V409.6M99.8,372.5V391.3M99.8,407.5V426.0M99.8,389.2V411.0M100.3,375.9V391.3M100.3,388.0V410.1M100.8,406.2V421.7M100.8,385.2V410.4M101.3,370.3V390.3M101.3,386.7V406.8M101.8,406.6V423.5M101.8,388.9V409.1M102.3,406.9V423.3M102.3,385.3V409.4M102.8,391.2V407.1M103.3,387.7V406.0M103.8,380.7V393.8M103.8,391.2V405.6M104.3,390.5V396.0M104.3,402.9V411.0M104.3,395.4V405.0M104.8,392.9V397.2M104.8,396.9V403.3M105.3,400.8V402.7M105.3,396.4V400.8M105.8,400.6V402.8M105.8,397.2V400.8M106.3,395.3V397.9M106.3,400.6V403.0M106.3,397.7V400.8M106.8,394.8V397.9M106.8,400.6V402.3M106.8,397.0V400.6M107.3,397.4V400.6M107.8,397.8V401.1M108.3,396.6V398.1M108.3,397.8V401.2M108.8,395.1V398.1M108.8,400.6V403.0M108.8,398.0V401.2M109.3,395.0V398.1M109.3,400.6V402.9M109.3,397.3V400.6M109.8,397.6V400.6M110.3,395.9V398.2M110.3,400.6V402.9M110.3,398.1V401.1M110.8,397.9V400.6M111.3,397.8V401.2M111.8,395.9V398.3M111.8,400.6V402.8M111.8,398.1V400.9M112.3,395.6V398.3M112.3,400.6V401.9M112.3,397.8V400.6M112.8,396.2V398.4M112.8,400.6V402.9M112.8,397.7V401.2M113.3,397.5V398.4M113.3,400.6V402.8M113.3,398.3V400.6M113.8,396.8V398.4M113.8,400.6V402.5M113.8,398.1V401.0M93.2,396.8V399.5M95.2,388.0V399.5M95.7,378.3V399.5M96.3,385.0V399.5M97.3,382.5V399.5M98.8,361.9V399.5M99.5,372.0V399.5M100.4,372.2V399.5M101.8,367.0V399.5M103.5,376.3V399.5M104.5,390.7V399.5M105.5,394.0V399.5M93.0,399.5V402.0M95.6,399.5V414.5M97.4,399.5V418.0M99.2,399.5V428.6M100.9,399.5V421.5M102.7,399.5V425.0M104.5,399.5V409.2M105.4,399.5V403.0M113.8,401.0V402.9M113.8,398.0V401.0M114.3,391.3V391.8M114.3,392.1V409.1M114.8,386.6V385.5M114.8,385.7V417.2M115.3,423.2V411.4M115.3,379.7V421.9M115.8,427.6V413.5M115.8,374.5V426.2M116.3,367.9V431.4M116.8,353.7V362.5M116.8,362.7V434.9M117.3,343.7V360.8M117.3,437.0V436.1M117.3,362.2V435.9M117.8,360.8V437.5M118.3,323.2V357.6M118.3,359.2V436.9M118.8,329.1V355.9M118.8,440.8V461.0M118.8,357.3V438.0M119.3,334.1V354.3M119.3,357.2V440.8M119.8,338.1V352.7M119.8,354.1V440.9M120.3,443.7V446.1M120.3,352.5V442.6M120.8,444.4V443.6M120.8,350.1V443.1M121.3,351.4V443.1M121.8,338.8V346.4M121.8,349.3V445.0M122.3,338.2V344.8M122.3,446.2V441.2M122.3,348.0V444.8M122.8,335.8V343.2M122.8,446.8V442.7M122.8,344.2V445.5M123.3,447.4V445.3M123.3,342.2V447.1M123.8,340.2V445.5M124.3,323.4V338.5M124.3,448.6V449.9M124.3,341.4V446.0M124.8,317.4V336.9M124.8,337.9V447.0M125.3,336.1V449.8M125.8,450.4V456.9M125.8,334.2V448.9M126.3,335.5V448.2M126.8,451.5V463.5M126.8,332.0V448.7M127.3,330.7V450.2M127.8,330.9V450.9M128.3,299.6V327.4M128.3,331.2V451.0M128.8,301.4V326.1M128.8,453.6V478.2M128.8,326.3V451.5M129.3,300.5V325.3M129.3,453.8V479.5M129.3,326.4V450.8M129.8,331.5V449.8M130.3,330.3V450.0M130.8,310.1V329.8M130.8,333.2V450.0M131.3,331.4V448.4M131.8,316.7V332.7M131.8,336.1V447.1M132.3,322.8V334.2M132.3,335.5V446.4M132.8,322.7V335.7M132.8,447.2V454.4M132.8,337.4V444.1M133.3,339.2V444.2M133.8,341.1V443.4M134.3,326.9V341.3M134.3,343.1V442.6M134.8,442.4V446.7M134.8,345.4V440.8M135.3,348.3V438.8M135.8,439.9V441.5M135.8,350.0V439.9M136.3,335.1V348.9M136.3,349.4V437.2M136.8,334.4V350.8M136.8,437.7V433.6M136.8,352.6V436.0M137.3,336.9V352.7M137.3,354.2V435.9M137.8,343.8V354.7M137.8,355.9V434.5M138.3,349.4V356.6M138.3,435.6V426.0M138.3,357.0V434.7M138.8,356.1V361.2M138.8,363.2V431.7M139.3,368.1V428.8M139.8,367.7V371.6M139.8,426.8V420.3M139.8,372.0V425.5M140.3,371.3V377.0M140.3,423.2V418.7M140.3,377.5V423.0M140.8,375.9V383.3M140.8,383.4V417.1M141.3,412.2V414.5M141.3,389.8V412.0M141.8,384.0V392.4M141.8,409.3V412.6M141.8,392.4V408.8M142.3,385.0V393.1M142.3,408.2V410.8M142.3,393.5V407.7M142.8,389.2V393.9M142.8,394.2V406.8M143.3,405.9V407.8M143.3,394.7V405.7M143.8,393.0V395.3M143.8,404.7V406.2M143.8,395.5V404.6M144.3,396.1V403.4M144.8,395.4V396.7M144.8,402.5V403.5M144.8,396.9V402.4M114.8,386.6V399.5M116.8,353.7V399.5M118.3,323.9V399.5M120.3,340.3V399.5M122.4,338.3V399.5M124.4,320.8V399.5M126.1,308.5V399.5M127.5,296.2V399.5M129.2,300.3V399.5M131.2,312.6V399.5M133.3,325.0V399.5M135.3,327.0V399.5M137.4,337.3V399.5M139.4,364.0V399.5M141.5,381.0V399.5M143.6,392.0V399.5M114.2,399.5V402.0M116.0,399.5V414.5M117.7,399.5V442.8M119.0,399.5V465.8M120.4,399.5V444.6M122.2,399.5V440.0M123.9,399.5V448.0M126.1,399.5V458.7M127.5,399.5V469.3M129.2,399.5V481.7M131.0,399.5V465.8M132.8,399.5V455.2M135.4,399.5V444.6M137.2,399.5V430.4M139.9,399.5V420.0M142.5,399.5V410.0M148.0,399.2V399.8M148.5,398.3V400.8M149.0,395.5V397.9M149.0,401.0V403.3M149.0,397.7V401.1M149.5,394.2V397.4M149.5,401.3V402.9M149.5,396.8V401.7M150.0,401.5V403.5M150.0,396.0V402.1M150.5,395.2V402.0M151.0,390.9V396.0M151.0,402.0V405.2M151.0,395.8V402.6M151.5,389.6V395.5M151.5,393.6V403.3M152.0,402.5V405.9M152.0,394.0V403.2M152.5,392.7V403.2M153.0,390.0V395.2M153.0,402.9V406.8M153.0,394.4V404.3M153.5,403.2V408.9M153.5,395.2V403.7M154.0,395.4V404.3M154.5,403.8V409.2M154.5,394.9V404.9M155.0,394.5V405.1M155.5,403.5V409.7M155.5,394.3V403.7M156.0,390.9V394.7M156.0,403.0V406.6M156.0,394.3V403.6M156.5,393.8V402.5M157.0,391.0V396.0M157.0,395.9V402.2M157.5,401.4V403.3M157.5,395.5V402.0M158.0,394.4V397.1M158.0,397.0V401.6M158.5,396.9V401.2M159.0,397.4V401.2M159.5,400.4V401.7M159.5,397.8V400.6M148.7,396.2V399.5M152.3,387.5V399.5M154.2,390.7V399.5M155.8,386.7V399.5M157.4,392.2V399.5M148.7,399.5V403.0M152.7,399.5V407.7M155.0,399.5V410.8M157.4,399.5V404.5M176.5,399.0V400.0M177.0,398.0V403.9M177.5,396.9V407.7M178.0,396.1V411.7M178.5,394.8V415.2M179.0,394.2V417.8M179.5,392.9V421.1M180.0,392.2V415.3M180.5,391.6V409.9M181.0,408.5V409.5M181.0,389.6V408.8M181.5,388.7V408.9M182.0,407.5V407.2M182.0,388.4V408.0M182.5,387.8V407.3M183.0,407.1V407.3M183.0,387.2V407.4M183.5,386.4V408.0M184.0,385.5V408.2M184.5,385.6V409.1M185.0,384.1V409.4M185.5,383.9V410.0M186.0,383.9V410.3M186.5,383.2V410.4M187.0,382.9V411.6M187.5,382.5V411.9M188.0,382.5V412.6M188.5,411.9V413.6M188.5,383.6V412.8M189.0,382.0V412.8M189.5,381.5V412.8M190.0,381.2V414.1M190.5,382.4V414.7M191.0,380.5V414.4M191.5,414.2V415.6M191.5,380.8V415.2M192.0,379.8V415.4M192.5,379.9V416.1M193.0,379.4V419.6M193.5,380.5V420.3M194.0,379.3V423.1M194.5,379.3V424.2M195.0,425.2V428.7M195.0,379.6V425.4M195.5,427.0V428.7M195.5,377.1V427.9M196.0,428.9V432.5M196.0,376.8V429.4M196.5,374.5V427.7M197.0,374.3V421.8M197.5,373.4V422.6M198.0,372.8V423.7M198.5,372.3V426.1M199.0,371.9V426.6M199.5,371.7V426.6M200.0,425.2V428.6M200.0,370.3V426.0M200.5,372.1V427.2M201.0,424.9V425.8M201.0,371.1V425.1M201.5,373.8V427.4M202.0,371.9V424.9M202.5,372.6V425.4M203.0,372.6V425.7M203.5,424.3V427.8M203.5,372.4V426.3M204.0,376.6V426.6M204.5,373.2V425.9M205.0,372.8V425.9M205.5,373.4V427.8M206.0,373.6V428.3M206.5,374.2V427.3M207.0,426.1V428.1M207.0,374.4V427.6M207.5,376.1V426.9M208.0,376.2V428.1M208.5,426.8V428.7M208.5,375.4V427.3M209.0,376.2V430.0M209.5,376.7V430.2M210.0,427.5V430.4M210.0,377.4V428.4M210.5,375.9V427.9M211.0,377.8V430.2M211.5,427.8V430.9M211.5,376.4V430.1M212.0,377.5V429.9M212.5,376.8V430.7M213.0,428.1V430.2M213.0,376.9V428.1M213.5,378.3V428.7M214.0,428.3V427.3M214.0,380.0V429.2M214.5,428.4V432.3M214.5,380.2V430.2M215.0,379.8V431.0M215.5,379.9V430.7M216.0,379.3V431.8M216.5,381.1V428.7M217.0,381.1V431.6M217.5,380.6V430.5M218.0,382.1V429.1M218.5,380.7V428.2M219.0,381.9V430.5M219.5,381.5V428.7M220.0,381.2V427.7M220.5,381.2V429.3M221.0,381.1V429.1M221.5,381.4V428.7M222.0,381.9V429.1M222.5,381.9V427.5M223.0,381.9V429.0M223.5,383.8V427.3M224.0,426.0V426.3M224.0,383.0V426.4M224.5,382.5V428.4M225.0,425.4V428.6M225.0,382.7V425.6M225.5,382.5V427.9M226.0,382.6V426.1M226.5,383.1V424.6M227.0,424.3V426.8M227.0,382.8V426.1M227.5,382.5V426.5M228.0,382.7V425.1M228.5,423.4V426.2M228.5,382.4V424.9M229.0,382.6V423.5M229.5,383.7V422.3M230.0,382.7V422.8M230.5,382.9V422.3M231.0,420.0V421.1M231.0,382.8V421.8M231.5,419.3V421.8M231.5,382.7V420.6M232.0,418.6V418.7M232.0,382.9V418.7M232.5,383.7V419.1M233.0,417.2V419.1M233.0,384.5V418.0M233.5,385.4V417.9M234.0,386.9V414.4M234.5,387.1V413.0M235.0,387.5V410.6M235.5,388.6V409.2M236.0,390.3V406.5M236.5,392.2V404.7M237.0,403.4V403.8M237.0,393.7V403.4M237.5,402.6V402.6M237.5,395.1V403.0M238.0,396.7V402.0M178.0,399.5V412.4M179.6,399.5V422.7M180.5,399.5V410.0M182.7,399.5V407.7M187.5,399.5V412.4M192.2,399.5V416.4M196.2,399.5V433.0M197.0,399.5V423.0M199.4,399.5V428.2M203.3,399.5V427.0M209.7,399.5V430.5M216.0,399.5V432.0M222.3,399.5V430.0M228.6,399.5V426.0M233.4,399.5V418.5M236.6,399.5V404.5M196.5,362.8V414.4M200.5,360.5V413.7M204.6,359.5V413.6M208.3,356.9V414.6M212.5,352.7V415.3M216.7,352.7V415.6M221.3,355.0V414.9M225.0,357.0V413.9M230.2,359.0V411.5M234.0,374.8V407.7M271.7,399.0V400.0M272.2,396.7V403.1M272.7,394.2V406.1M273.2,392.1V407.1M273.7,390.7V407.9M274.2,389.2V408.0M274.7,388.6V408.0M275.2,386.1V408.1M275.7,385.0V408.6M276.2,383.2V409.0M276.7,381.8V408.9M277.2,380.7V409.5M277.7,379.7V409.6M278.2,379.1V409.8M278.7,380.8V410.5M279.2,377.7V410.0M279.7,377.2V410.9M280.2,376.8V411.1M280.7,375.8V410.8M281.2,377.7V410.9M281.7,374.6V411.5M282.2,375.0V410.6M282.7,373.8V411.1M283.2,373.7V413.8M283.7,372.9V414.9M284.2,372.4V416.2M284.7,372.7V417.0M285.2,372.8V417.9M285.7,374.0V420.3M286.2,372.4V419.5M286.7,372.1V422.4M287.2,370.0V423.9M287.7,369.1V424.5M288.2,368.5V424.2M288.7,369.7V424.4M289.2,368.2V424.2M289.7,369.3V423.3M290.2,367.0V425.0M290.7,366.7V424.2M291.2,367.0V424.7M291.7,366.3V423.5M292.2,367.2V424.4M292.7,367.7V425.2M293.2,366.4V424.7M293.7,366.2V425.2M294.2,366.3V424.8M294.7,366.3V425.6M295.2,366.7V425.4M295.7,365.6V425.5M296.2,364.9V425.3M296.7,366.1V423.9M297.2,365.4V425.1M297.7,364.7V426.4M298.2,364.5V426.7M298.7,365.1V426.2M299.2,364.6V426.4M299.7,364.2V422.6M300.2,367.5V424.0M300.7,365.2V426.5M301.2,369.5V423.2M301.7,368.4V426.7M302.2,369.4V426.2M302.7,370.9V426.3M303.2,369.4V426.4M303.7,368.9V425.6M304.2,369.4V425.7M304.7,373.1V426.6M305.2,370.7V426.2M305.7,371.4V425.8M306.2,371.9V425.4M306.7,372.2V426.5M307.2,373.1V425.6M307.7,372.6V426.0M308.2,374.1V424.6M308.7,374.0V425.6M309.2,374.1V426.2M309.7,374.0V426.1M310.2,374.4V425.1M310.7,376.1V425.1M311.2,376.3V425.7M311.7,375.7V425.6M312.2,377.8V426.0M312.7,375.6V424.0M313.2,376.2V426.1M313.7,375.9V425.5M314.2,377.7V425.4M314.7,378.1V425.4M315.2,377.8V425.9M315.7,377.1V423.6M316.2,378.0V425.5M316.7,379.0V424.8M317.2,378.5V423.3M317.7,379.2V423.1M318.2,380.2V422.3M318.7,378.9V421.4M319.2,380.5V419.5M319.7,381.7V418.8M320.2,383.9V418.9M320.7,383.3V418.1M321.2,385.2V416.5M321.7,386.3V416.6M322.2,387.8V415.2M322.7,389.2V412.8M323.2,390.6V407.6M323.7,391.8V404.5M324.2,393.3V404.3M324.7,394.4V404.4M325.2,395.7V404.4M273.2,381.6V412.7M276.5,377.5V415.2M280.0,370.6V417.8M283.5,362.3V423.0M286.8,351.8V434.7M290.4,344.5V447.0M293.8,344.5V447.4M297.2,346.0V445.4M300.6,346.6V444.2M304.0,345.2V444.9M307.4,343.4V445.6M310.8,341.1V446.3M314.2,341.0V445.6M317.6,344.4V444.5M321.0,357.5V434.6M352.5,399.0V400.0M353.0,381.0V412.3M353.5,379.4V382.8M353.5,411.0V413.4M353.5,382.7V412.0M354.0,384.8V383.9M354.0,409.7V411.5M354.0,383.6V411.5M354.5,408.8V409.7M354.5,384.2V408.8M355.0,382.9V409.0M355.5,383.6V409.7M356.0,384.7V408.4M356.5,407.4V407.6M356.5,385.1V407.5M357.0,385.9V407.8M357.5,386.1V388.5M357.5,386.9V406.7M358.0,406.4V406.8M358.0,388.2V406.4M358.5,387.8V389.4M358.5,388.8V407.1M359.0,388.8V389.8M359.0,389.6V406.6M359.5,388.9V407.1M360.0,389.4V406.5M360.5,405.7V407.1M360.5,389.7V405.9M361.0,405.5V405.9M361.0,391.1V406.4M361.5,405.4V406.7M361.5,391.6V406.1M362.0,390.8V405.4M362.5,405.1V406.5M362.5,391.4V405.6M363.0,392.0V405.4M363.5,392.4V405.1M364.0,391.3V392.5M364.0,391.3V405.2M364.5,405.2V406.4M364.5,392.0V405.2M365.0,405.2V406.4M365.0,392.5V405.3M365.5,391.5V405.5M366.0,405.3V406.5M366.0,391.7V406.1M366.5,390.8V391.8M366.5,405.4V406.8M366.5,391.1V406.1M367.0,405.4V406.8M367.0,390.6V406.2M367.5,389.2V391.0M367.5,389.5V406.5M368.0,388.1V390.6M368.0,389.5V406.5M368.5,405.4V406.2M368.5,389.3V406.0M369.0,388.8V390.6M369.0,405.3V405.8M369.0,389.6V405.5M369.5,405.2V405.6M369.5,390.3V405.7M370.0,405.1V406.4M370.0,389.4V405.2M370.5,389.6V390.9M370.5,390.8V406.0M371.0,389.0V391.0M371.0,390.8V405.6M371.5,390.1V391.2M371.5,404.8V405.8M371.5,390.5V405.4M372.0,389.9V391.3M372.0,390.5V405.5M372.5,404.6V405.7M372.5,390.3V405.1M373.0,390.1V391.5M373.0,390.4V404.8M373.5,404.4V405.3M373.5,390.7V404.5M374.0,391.1V404.9M374.5,390.5V391.7M374.5,404.3V404.9M374.5,390.3V404.7M375.0,390.6V391.7M375.0,390.4V405.0M375.5,404.1V405.1M375.5,390.6V404.5M376.0,390.3V391.9M376.0,391.6V404.8M376.5,391.3V404.2M377.0,391.3V392.3M377.0,391.2V404.5M377.5,392.1V404.0M378.0,392.2V404.3M378.5,391.6V393.1M378.5,392.6V403.6M379.0,403.2V403.6M379.0,393.1V403.3M379.5,393.3V393.7M379.5,393.4V403.2M380.0,393.1V394.1M380.0,393.3V402.6M380.5,394.6V402.4M381.0,401.6V402.0M381.0,395.4V401.7M381.5,396.0V401.3M382.0,396.6V401.0M382.5,397.3V400.6M383.0,398.0V398.3M383.0,398.3V400.5M383.5,400.3V400.3M383.5,398.2V400.3M353.0,377.2V399.5M354.3,380.8V399.5M357.9,386.3V399.5M361.6,390.0V399.5M365.2,391.2V399.5M368.3,388.1V399.5M372.5,389.4V399.5M376.2,390.0V399.5M379.8,392.4V399.5M382.3,396.7V399.5M353.0,399.5V415.5M354.3,399.5V411.3M357.9,399.5V408.2M362.8,399.5V406.4M367.7,399.5V407.0M372.5,399.5V405.9M378.6,399.5V404.5M382.3,399.5V400.8M413.8,399.0V399.1M413.8,399.9V400.0M413.8,399.1V399.9M414.3,392.4V393.7M414.3,402.7V403.4M414.3,392.7V403.0M414.8,387.0V389.6M414.8,405.4V406.4M414.8,388.3V406.0M415.3,382.1V385.5M415.3,383.3V408.3M415.8,376.4V381.4M415.8,409.1V410.8M415.8,380.2V410.1M416.3,378.1V381.8M416.3,380.8V411.4M416.8,411.6V414.9M416.8,380.4V412.7M417.3,378.6V382.7M417.3,412.6V414.7M417.3,379.7V413.6M417.8,381.1V383.1M417.8,412.3V415.3M417.8,380.5V412.6M418.3,382.1V413.7M418.8,380.0V381.9M418.8,378.8V412.6M419.3,411.5V414.4M419.3,379.6V411.6M419.8,378.3V412.3M420.3,373.2V378.4M420.3,375.4V411.2M420.8,371.9V412.0M421.3,369.2V373.0M421.3,372.8V412.7M421.8,369.2V413.6M422.3,367.1V373.7M422.3,413.1V415.8M422.3,370.5V413.9M422.8,413.6V417.1M422.8,374.0V416.3M423.3,378.6V414.3M423.8,376.7V379.6M423.8,413.9V417.1M423.8,377.4V416.5M424.3,413.3V417.2M424.3,379.3V415.2M424.8,375.8V380.8M424.8,377.7V414.1M425.3,380.3V413.8M425.8,378.2V380.6M425.8,378.5V413.0M426.3,374.3V379.4M426.3,379.3V412.8M426.8,411.9V414.4M426.8,377.7V414.0M427.3,376.9V415.9M427.8,375.0V375.8M427.8,373.5V417.0M428.3,372.4V419.4M428.8,368.7V373.3M428.8,371.8V422.0M429.3,371.7V421.9M429.8,369.3V423.3M430.3,368.2V424.4M430.8,365.9V425.4M431.3,358.5V367.2M431.3,423.7V427.4M431.3,365.0V424.9M431.8,357.3V366.0M431.8,424.5V430.5M431.8,363.7V428.7M432.3,363.2V426.7M432.8,425.7V429.6M432.8,362.4V425.9M433.3,362.2V427.5M433.8,361.6V428.9M434.3,361.2V428.5M434.8,425.7V429.9M434.8,359.2V430.3M435.3,359.7V428.6M435.8,357.2V428.2M436.3,359.3V362.5M436.3,360.7V429.4M436.8,425.2V432.3M436.8,355.8V425.7M437.3,357.9V362.5M437.3,424.9V428.3M437.3,356.2V425.6M437.8,357.7V424.8M438.3,424.4V431.2M438.3,362.4V426.9M438.8,424.1V431.0M438.8,358.7V427.5M439.3,360.0V365.5M439.3,423.0V425.7M439.3,359.5V425.5M439.8,421.9V425.8M439.8,364.9V422.4M440.3,366.5V422.2M440.8,419.7V424.5M440.8,366.2V422.8M441.3,367.2V369.9M441.3,366.8V419.8M441.8,371.1V420.8M442.3,416.2V417.8M442.3,372.3V417.7M442.8,369.8V374.5M442.8,373.5V417.0M443.3,375.1V414.3M443.8,412.2V414.1M443.8,377.7V412.9M444.3,376.7V381.7M444.3,410.9V413.9M444.3,381.5V411.8M444.8,380.7V384.2M444.8,409.6V412.5M444.8,381.7V411.2M445.3,408.1V409.5M445.3,386.0V408.7M445.8,387.5V406.9M446.3,405.0V405.8M446.3,390.7V405.3M446.8,393.3V393.6M446.8,392.6V403.7M447.3,394.3V395.0M447.3,394.6V403.1M447.8,395.6V402.5M448.3,396.3V402.5M448.8,402.0V402.7M448.8,397.5V402.4M449.3,401.8V402.0M449.3,397.8V402.0M449.8,401.6V402.2M449.8,397.9V401.7M450.3,397.9V398.2M450.3,398.0V401.5M450.8,398.1V398.3M450.8,398.2V401.5M451.3,398.4V401.2M451.8,398.5V398.6M451.8,400.8V401.0M451.8,398.6V401.0M414.2,393.3V399.5M415.8,376.9V399.5M417.8,379.0V399.5M419.9,375.9V399.5M421.7,363.6V399.5M423.4,374.0V399.5M425.4,377.0V399.5M427.5,370.8V399.5M429.5,364.6V399.5M432.2,356.4V399.5M434.7,353.3V399.5M437.7,353.3V399.5M440.8,360.5V399.5M442.9,368.7V399.5M444.9,381.0V399.5M447.0,393.3V399.5M449.0,397.4V399.5M415.2,399.5V409.7M417.2,399.5V415.9M420.3,399.5V413.8M423.4,399.5V418.0M426.5,399.5V413.8M429.5,399.5V426.2M432.6,399.5V432.3M435.7,399.5V432.3M438.8,399.5V430.3M441.8,399.5V422.0M444.9,399.5V411.8M447.0,399.5V403.6M467.5,399.9V400.0M467.5,399.0V399.9M468.0,397.8V400.7M468.5,396.2V396.8M468.5,401.3V401.7M468.5,396.8V401.4M469.0,402.1V402.3M469.0,395.0V402.3M469.5,393.7V403.3M470.0,395.3V402.4M470.5,396.0V396.3M470.5,401.8V402.3M470.5,396.1V402.1M471.0,396.7V397.2M471.0,401.3V401.7M471.0,396.9V401.3M471.5,400.8V400.9M471.5,397.9V400.8M469.5,393.3V399.5M469.5,399.5V403.6M476.8,399.0V399.1M476.8,399.1V399.9M477.3,391.9V392.5M477.3,405.6V406.2M477.3,392.3V406.0M477.8,408.8V410.7M477.8,386.3V409.2M478.3,380.5V413.6M478.8,377.8V379.6M478.8,377.0V417.3M479.3,371.7V376.8M479.3,417.8V421.1M479.3,372.9V421.0M479.8,371.4V421.1M480.3,364.3V371.4M480.3,367.0V423.1M480.8,371.5V370.6M480.8,368.4V424.6M481.3,367.3V369.8M481.3,422.9V427.7M481.3,369.4V424.4M481.8,362.9V369.1M481.8,366.7V424.8M482.3,362.8V368.3M482.3,425.5V432.0M482.3,365.0V427.9M482.8,363.0V429.8M483.3,361.7V430.4M483.8,364.7V366.9M483.8,428.7V435.1M483.8,364.7V432.4M484.3,360.3V367.1M484.3,429.8V438.2M484.3,362.1V431.5M484.8,363.6V436.1M485.3,360.1V367.5M485.3,431.9V440.2M485.3,367.1V433.0M485.8,433.0V442.1M485.8,364.6V435.3M486.3,356.1V363.7M486.3,360.3V437.2M486.8,354.6V361.7M486.8,357.7V437.0M487.3,358.0V439.4M487.8,432.6V438.5M487.8,358.6V437.6M488.3,432.0V441.3M488.3,363.8V434.7M488.8,364.5V432.6M489.3,365.7V433.1M489.8,364.2V431.3M490.3,362.5V369.2M490.3,429.5V436.5M490.3,368.2V433.8M490.8,362.6V370.1M490.8,366.9V430.8M491.3,428.1V432.4M491.3,368.7V428.3M491.8,367.0V372.0M491.8,371.2V428.2M492.3,366.3V372.9M492.3,369.6V429.5M492.8,368.4V373.5M492.8,426.1V432.6M492.8,372.9V429.2M493.3,368.3V373.9M493.3,373.4V429.5M493.8,368.6V374.3M493.8,424.8V430.4M493.8,374.2V428.7M494.3,372.3V425.1M494.8,368.1V375.1M494.8,372.6V426.7M495.3,369.3V375.5M495.3,372.6V423.3M495.8,374.0V375.9M495.8,372.2V422.9M496.3,371.9V376.3M496.3,421.9V427.5M496.3,376.2V422.8M496.8,370.1V376.7M496.8,421.3V424.6M496.8,372.5V424.1M497.3,420.8V425.2M497.3,374.9V423.0M497.8,420.2V423.3M497.8,376.5V422.6M498.3,371.4V377.5M498.3,374.5V421.0M498.8,376.8V422.7M499.3,372.7V378.1M499.3,375.2V420.2M499.8,377.5V378.4M499.8,418.0V420.1M499.8,375.8V418.2M500.3,373.3V378.7M500.3,417.5V421.7M500.3,375.4V418.0M500.8,416.9V420.5M500.8,377.2V417.3M501.3,378.2V416.9M501.8,378.7V418.8M502.3,415.3V417.2M502.3,381.2V416.1M502.8,378.9V382.3M502.8,380.2V415.4M503.3,381.4V414.9M503.8,413.7V416.6M503.8,381.8V414.0M504.3,380.6V384.7M504.3,413.2V416.1M504.3,382.5V413.7M504.8,384.4V412.7M505.3,382.2V385.9M505.3,385.7V413.8M505.8,383.2V386.3M505.8,413.4V416.1M505.8,385.2V413.8M506.3,383.1V386.7M506.3,413.8V417.4M506.3,385.0V415.9M506.8,386.5V416.9M507.3,414.6V418.1M507.3,385.7V416.8M507.8,383.4V384.2M507.8,415.0V418.2M507.8,382.9V417.9M508.3,415.4V417.2M508.3,379.5V415.5M508.8,415.8V419.0M508.8,380.2V418.8M509.3,413.7V415.5M509.3,383.5V414.5M509.8,411.0V413.7M509.8,385.5V412.3M510.3,389.7V409.3M510.8,405.5V406.9M510.8,393.9V406.3M511.3,403.3V403.1M511.3,397.0V403.3M511.8,398.1V398.2M511.8,401.4V401.8M511.8,398.1V401.4M477.1,393.3V399.5M478.2,379.0V399.5M480.2,364.6V399.5M483.3,358.5V399.5M485.3,359.5V399.5M486.8,352.3V399.5M489.4,359.5V399.5M492.5,366.7V399.5M496.6,370.8V399.5M500.7,373.8V399.5M504.8,382.0V399.5M506.9,384.1V399.5M508.9,375.9V399.5M511.0,395.4V399.5M477.1,399.5V405.6M479.2,399.5V422.0M482.3,399.5V432.0M486.4,399.5V443.0M489.4,399.5V438.5M493.5,399.5V431.5M498.7,399.5V424.1M504.8,399.5V415.9M508.9,399.5V420.0M511.0,399.5V405.6M515.5,399.1V400.0M516.0,400.8V401.1M516.0,397.7V400.9M516.5,395.6V396.4M516.5,396.1V402.1M517.0,394.2V395.1M517.0,394.6V402.7M517.5,392.7V393.7M517.5,403.6V404.0M517.5,392.7V404.2M518.0,393.5V394.7M518.0,403.0V403.7M518.0,394.5V403.5M518.5,395.1V395.6M518.5,402.5V403.2M518.5,395.1V403.1M519.0,395.9V396.5M519.0,396.1V402.0M519.5,397.2V397.4M519.5,397.1V401.7M520.0,398.2V398.3M520.0,398.1V401.0M517.5,392.3V399.5M517.5,399.5V404.6M542.8,393.3V405.6M179.4,373.2V422.7M177.3,381.2V412.4M332.6,390.0V410.0M353.0,377.2V415.5" stroke="#0072bd" stroke-width="1" fill="none"/>
<rect x="61" y="31" width="577" height="187" fill="none" stroke="#000" stroke-width="1.8"/>
<path d="M61.00,218v-6.5M61.00,31v6.5M157.17,218v-6.5M157.17,31v6.5M253.33,218v-6.5M253.33,31v6.5M349.50,218v-6.5M349.50,31v6.5M445.67,218v-6.5M445.67,31v6.5M541.83,218v-6.5M541.83,31v6.5M638.00,218v-6.5M638.00,31v6.5M61,31.00h6.5M638,31.00h-6.5M61,77.75h6.5M638,77.75h-6.5M61,124.50h6.5M638,124.50h-6.5M61,171.25h6.5M638,171.25h-6.5M61,218.00h6.5M638,218.00h-6.5" stroke="#000" stroke-width="1.7" fill="none"/>
<rect x="61" y="296" width="577" height="187" fill="none" stroke="#000" stroke-width="1.8"/>
<path d="M61.00,483v-6.5M61.00,296v6.5M157.17,483v-6.5M157.17,296v6.5M253.33,483v-6.5M253.33,296v6.5M349.50,483v-6.5M349.50,296v6.5M445.67,483v-6.5M445.67,296v6.5M541.83,483v-6.5M541.83,296v6.5M638.00,483v-6.5M638.00,296v6.5M61,317.40h6.5M638,317.40h-6.5M61,399.50h6.5M638,399.50h-6.5M61,483.00h6.5M638,483.00h-6.5" stroke="#000" stroke-width="1.7" fill="none"/>
<text transform="translate(60.60,240)" text-anchor="middle" class="tk">0</text>
<text transform="translate(156.77,240)" text-anchor="middle" class="tk">0.5</text>
<text transform="translate(252.93,240)" text-anchor="middle" class="tk">1</text>
<text transform="translate(349.10,240)" text-anchor="middle" class="tk">1.5</text>
<text transform="translate(445.27,240)" text-anchor="middle" class="tk">2</text>
<text transform="translate(541.43,240)" text-anchor="middle" class="tk">2.5</text>
<text transform="translate(637.60,240)" text-anchor="middle" class="tk">3</text>
<text transform="translate(60.60,505)" text-anchor="middle" class="tk">0</text>
<text transform="translate(156.77,505)" text-anchor="middle" class="tk">0.5</text>
<text transform="translate(252.93,505)" text-anchor="middle" class="tk">1</text>
<text transform="translate(349.10,505)" text-anchor="middle" class="tk">1.5</text>
<text transform="translate(445.27,505)" text-anchor="middle" class="tk">2</text>
<text transform="translate(541.43,505)" text-anchor="middle" class="tk">2.5</text>
<text transform="translate(637.60,505)" text-anchor="middle" class="tk">3</text>
<text transform="translate(54.8,37.00)" text-anchor="end" class="tk">0.4</text>
<text transform="translate(54.8,83.75)" text-anchor="end" class="tk">0.2</text>
<text transform="translate(54.8,130.50)" text-anchor="end" class="tk">0</text>
<text transform="translate(54.8,177.25)" text-anchor="end" class="tk">-0.2</text>
<text transform="translate(54.8,224.00)" text-anchor="end" class="tk">-0.4</text>
<text transform="translate(54.8,323.40)" text-anchor="end" class="tk">0.5</text>
<text transform="translate(54.8,405.50)" text-anchor="end" class="tk">0</text>
<text transform="translate(54.8,489.00)" text-anchor="end" class="tk">-0.5</text>
<text x="349" y="264" text-anchor="middle" class="lb">Time/second</text>
<text x="349" y="528" text-anchor="middle" class="lb">Time/second</text>
<text transform="translate(20,125.2) rotate(-90)" text-anchor="middle" class="lb">Amp</text>
<text transform="translate(20,390.5) rotate(-90)" text-anchor="middle" class="lb">Amp</text>
<text x="363" y="21" text-anchor="middle" class="tt">Original Waveform</text>
<text x="350" y="287.5" text-anchor="middle" class="tt">AGC Waveform</text>
</svg>
</body></html>
